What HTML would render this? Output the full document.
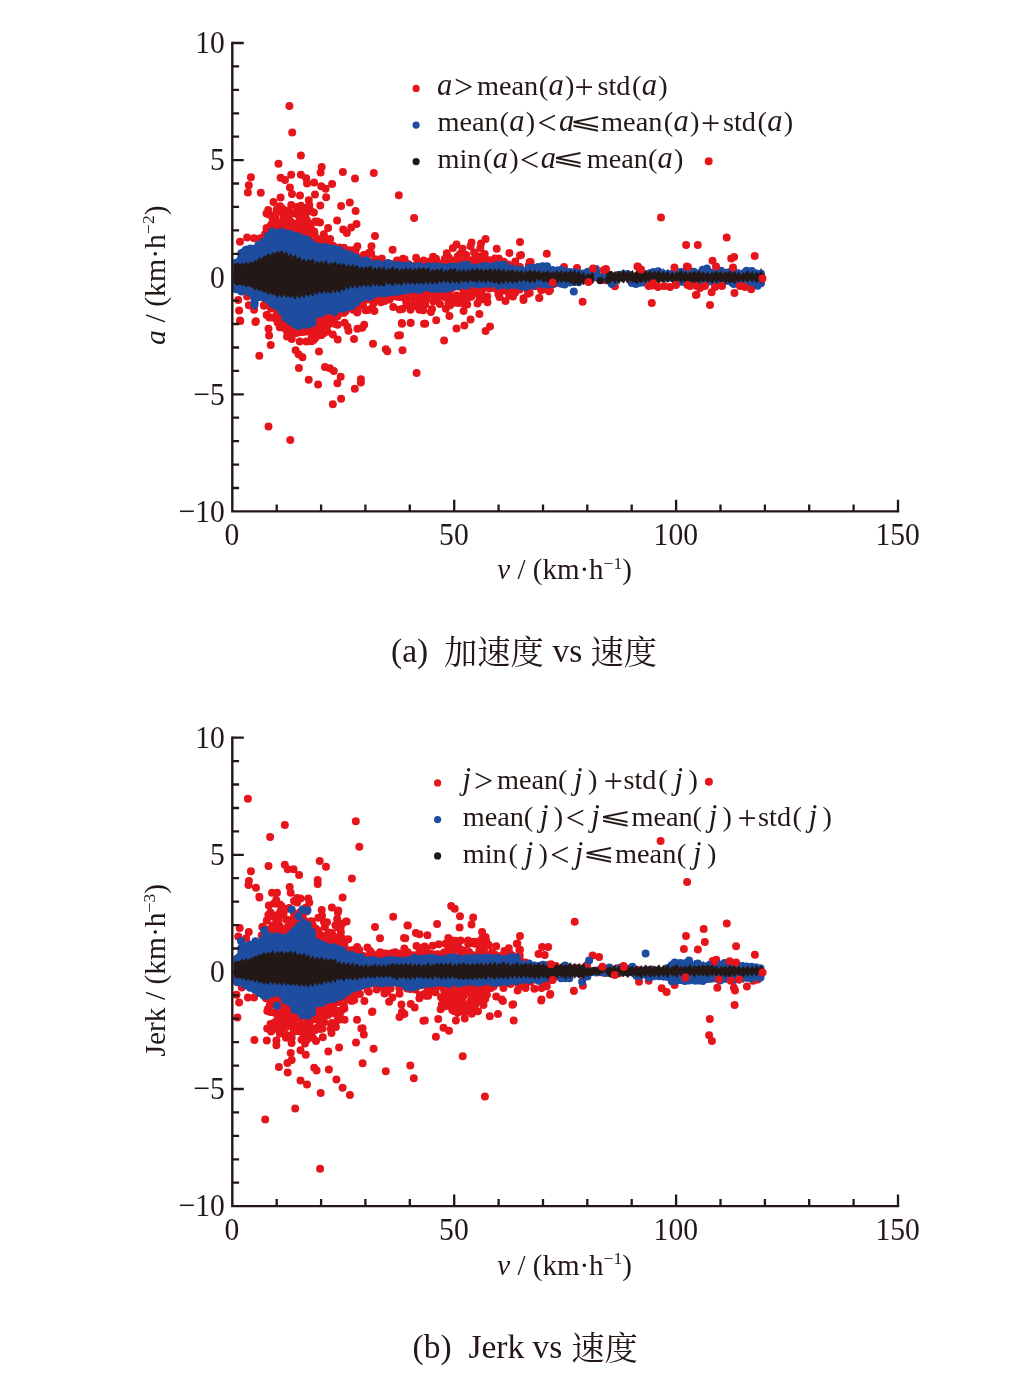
<!DOCTYPE html>
<html lang="zh-CN">
<head>
<meta charset="utf-8">
<title>加速度 / Jerk vs 速度</title>
<style>
html,body{margin:0;padding:0;background:#fff}
body{width:1020px;height:1381px;overflow:hidden}
svg{display:block}
text{font-family:"Liberation Serif","DejaVu Sans",serif;fill:#231815}
.tk{font-size:29.6px}
.lb{font-size:29px}
.lg{font-size:28.3px}
.lg .it{font-size:30.5px}
.op{font-size:34px}
.it{font-style:italic}
.sup{font-size:17.5px}
.le{font-family:"DejaVu Sans","Liberation Serif",sans-serif;font-size:30px}
.cap{font-size:33.5px}
.cjk{font-family:"Liberation Serif","Noto Serif CJK SC",serif;font-size:33.3px}
</style>
</head>
<body>
<svg width="1020" height="1381" viewBox="0 0 1020 1381">
<rect width="1020" height="1381" fill="#fff"/>
<g id="plot1">
<path d="M263.2 241.9h0M263.7 297h0M266.1 232.7h0M265.1 234.1h0M267.1 237.8h0M263.9 305.8h0M263.8 305.3h0M265.5 299.8h0M266.5 227.9h0M268.8 214.6h0M266.5 213.5h0M267 300.8h0M266.6 314.9h0M269.4 302.1h0M268.4 213.9h0M269.5 227h0M271.2 227.9h0M271 225.1h0M271.4 317.5h0M271 308.5h0M269.3 317.4h0M273.4 223.6h0M273.4 224.7h0M272.7 220h0M273 227.7h0M273.7 305.9h0M271 307.5h0M275.5 217.5h0M272.9 225.3h0M272.8 226.5h0M274.5 306h0M276 306.6h0M273.8 317.7h0M275.6 225.6h0M277.4 226.2h0M276.7 209.4h0M276.2 212.9h0M277.4 314.9h0M277 309.2h0M277.8 311.1h0M279.9 223.5h0M278.3 222.2h0M279.3 231.3h0M280.1 206.3h0M277.1 313h0M279.4 320.1h0M277.6 322.6h0M280.7 211.6h0M282.8 208.9h0M282.6 222.2h0M281.8 225.3h0M279.7 327.2h0M280.8 314.2h0M281.9 228.4h0M282.3 226.2h0M283.7 216h0M284.7 232.5h0M282.1 327.2h0M281.8 317.7h0M283.1 319h0M285.1 228.6h0M284.5 220.2h0M287.1 222.7h0M286.2 224.4h0M286.4 330.2h0M284.1 326.6h0M286.2 212.3h0M289.2 232h0M289.5 220.7h0M289.6 214.3h0M287.2 329.5h0M287 336.6h0M288.9 322.1h0M289.3 228.3h0M290.9 229.9h0M290.2 220.9h0M289.1 210.5h0M288.3 321.1h0M291.7 339h0M291.8 330.2h0M292.3 226.2h0M293.1 234.6h0M292.9 229.6h0M291.2 205.1h0M293.3 330.9h0M291.6 331.5h0M291 329.2h0M294.9 223.7h0M296 233.8h0M293.2 231.6h0M294.5 224.5h0M295.7 213.8h0M294.7 332.7h0M294.8 329.4h0M294 328h0M297.3 214.6h0M297 207.1h0M295.7 235.9h0M296.1 212.4h0M296.2 332.9h0M295 329.4h0M295.1 328.7h0M299.6 220.1h0M300.2 213.2h0M298.4 229.9h0M299.4 234.4h0M300.6 326h0M299.7 332.3h0M297.5 330.2h0M299.5 220.7h0M301 205.8h0M300.6 222.8h0M302.1 229.4h0M300.4 324h0M299.7 341.5h0M302.4 332.1h0M304.8 231.1h0M303.8 218.9h0M304.8 228.4h0M305 209.6h0M303 225.6h0M304.6 326.9h0M304.9 325.7h0M304.6 331.7h0M304.2 330.7h0M305.6 213.9h0M306.6 219.4h0M304.1 232h0M306.8 221.7h0M306.6 324.9h0M305.7 329.9h0M306.5 325h0M307.2 221.2h0M306.6 227.7h0M309.3 230.2h0M307.1 207.8h0M307.9 330.4h0M306.3 341.6h0M308.1 325.6h0M310.7 234.1h0M308.3 238.5h0M309.3 205.1h0M308.4 240.7h0M309.7 223.7h0M311.5 341.3h0M311.4 334h0M311.7 325.1h0M310.3 323.2h0M310.9 227.9h0M311.1 211h0M312 233.1h0M311.6 231.6h0M311.8 337.3h0M312.2 331.9h0M311.4 324.1h0M313.6 340h0M316.1 240.1h0M313.9 212.5h0M314.2 231.5h0M314.6 234.6h0M315.2 221.6h0M313.5 316.5h0M315.2 327.9h0M315.4 324h0M315.1 338.3h0M317.3 221.6h0M317.6 239.6h0M316.6 221.9h0M316.2 243.2h0M315.9 315.8h0M317.7 322.6h0M315.8 325.3h0M318.2 335.6h0M316.5 333.3h0M319.9 243.9h0M317.9 242.5h0M320 245.9h0M320 222.4h0M318.5 315.4h0M319.1 316.6h0M317.8 315.4h0M319.3 328h0M321.3 243.5h0M320.6 247.4h0M321.7 238.4h0M320.8 247.5h0M321.6 335h0M322 322h0M322.1 328.7h0M320.4 323h0M324 247.9h0M325 246.3h0M324.2 236.6h0M322.2 241.1h0M323 313.8h0M323.7 330.8h0M324.1 332.9h0M324.2 328.5h0M323.8 235.9h0M326.6 240.2h0M323.8 234.2h0M327.1 248.2h0M326.9 326.7h0M325.9 315.2h0M326.9 322h0M325.4 315.4h0M325.2 315.7h0M326 241.7h0M328.3 245.6h0M328.1 228.1h0M328.3 324.5h0M328.1 322.6h0M327.4 331.6h0M327.1 318.3h0M330.2 239.1h0M330 246.1h0M329.6 322.7h0M328.8 317.9h0M331.4 312.2h0M330.3 315.8h0M332.2 248.8h0M331.5 246.6h0M333.8 320.8h0M331.5 320.9h0M332.6 322.9h0M333.5 313.9h0M332.7 250.8h0M333 245.7h0M333.2 320.7h0M333.5 318.1h0M335.3 323.9h0M338.2 249.5h0M336 316.8h0M337.5 316.3h0M337.6 310.4h0M337.6 324.7h0M339.5 249.9h0M337.1 316.1h0M337.8 313.9h0M340.6 250.7h0M339.3 247.5h0M341.9 311.8h0M340.2 309.4h0M341.5 309.9h0M343.9 247.7h0M342.6 311.6h0M343.7 312.9h0M344.3 249h0M344.2 311.4h0M345.4 311.4h0M349.5 253.7h0M349.5 250.2h0M347 309h0M348.2 307.9h0M349 252.5h0M349.4 306.8h0M351 252.5h0M353.8 250.1h0M353.2 309.8h0M355.8 249.5h0M355.9 255.5h0M356 306.5h0M353.7 307.8h0M356.3 257.4h0M357.2 312.6h0M358.1 302.3h0M358.3 257.9h0M357.6 311.8h0M358.6 301.5h0M362.5 259h0M361.4 258.8h0M360.8 299.5h0M361.6 299.4h0M364 254.9h0M363 297.6h0M363 305.7h0M363.8 254.9h0M364.1 297.5h0M365.7 310.3h0M369 252.7h0M366.9 260.3h0M367.5 299.6h0M367.9 310.1h0M371.2 253.4h0M368.5 296.1h0M371.2 299.6h0M373.1 263.1h0M371.2 297.4h0M371.8 308.2h0M373.3 261.9h0M375.2 262h0M374.4 311.1h0M373.4 303.4h0M375.4 259.3h0M376 293.9h0M376.9 299.3h0M378.8 260.1h0M380.3 296.4h0M380.5 295.8h0M378.4 297.1h0M381.5 263.5h0M382 261.1h0M380.5 293.4h0M380.9 302.3h0M379.2 301h0M381.8 258.5h0M384.8 299.1h0M382.5 295h0M386.3 264.8h0M384.8 301h0M385.9 297.6h0M388.4 264.1h0M389.1 292.1h0M388.1 298.3h0M390.7 263.9h0M388.2 299.1h0M389.6 299.4h0M392.5 265.4h0M392.5 293.7h0M393.2 307.1h0M392.6 291.8h0M395.8 263.8h0M392.9 292.1h0M392.6 296.6h0M397.1 260.5h0M394.9 294.8h0M396.2 295.9h0M400.4 263.4h0M398.2 297.1h0M400.3 297h0M402.2 263.2h0M400.8 294.7h0M399.7 309.5h0M402.3 308.9h0M404.6 259.2h0M403 258.7h0M401.7 293.2h0M404.4 297.9h0M404.5 263h0M403.9 265.4h0M406.2 302.1h0M406.5 304.7h0M408.8 265.6h0M408.6 305.5h0M407.1 299h0M408.2 263.9h0M408.4 266.7h0M409.9 291.2h0M410.2 294.6h0M412 266.2h0M410.5 309.7h0M411.9 291.1h0M410.6 294.9h0M415.9 266.8h0M414.3 267h0M413 305.1h0M414.9 291.6h0M413.6 295.9h0M416.6 264.4h0M416.1 257.8h0M417.6 306.7h0M414.9 299.7h0M416.1 296.6h0M417.4 266.4h0M416.9 299.2h0M418.8 291.7h0M420.2 263.5h0M420.7 265.7h0M421.1 301.1h0M419.6 293.8h0M419.6 291.9h0M422.6 266.1h0M423.6 260.4h0M423.3 310.3h0M422.8 288.8h0M422.1 293.2h0M424.5 265.3h0M427 289.5h0M425.2 304.6h0M425 293.9h0M425.9 267.3h0M428.4 288.7h0M426.4 290.7h0M426 299.4h0M430.1 261.2h0M429.6 289.5h0M430.8 289h0M429.7 294h0M433.1 256.8h0M432 308.9h0M433.4 290.8h0M431.5 289.4h0M432.6 259.5h0M435.4 266.7h0M433.2 301.3h0M433.6 301.2h0M436.9 265.8h0M436 258.7h0M437.7 288.1h0M434.8 295.6h0M436.2 289.5h0M440.1 263.8h0M439.9 303.9h0M438.4 296.7h0M438 291.4h0M440.4 263.4h0M442.5 264.5h0M442.4 295.1h0M441.3 293.6h0M441.7 265.9h0M444.9 289.6h0M443.7 296.6h0M441.7 290.4h0M444.9 258.7h0M446.2 265.5h0M444.6 288h0M445.8 297.4h0M446.3 294.2h0M448.8 257.4h0M448.8 298.9h0M445.9 308.7h0M448.4 303.8h0M450.8 261.4h0M450.1 305.3h0M448.7 287.6h0M449.5 291h0M452.9 263.2h0M451.5 260.2h0M451.3 303.8h0M451.7 288.2h0M451.9 286h0M454.4 261.9h0M453.1 299.2h0M455.8 300.7h0M453 298.1h0M457.8 256.2h0M455.9 302.5h0M456.5 295.4h0M457.9 286.6h0M457.1 259.9h0M460.4 264.3h0M458.3 303h0M460.2 298.2h0M459 297h0M459.5 263.2h0M462 266h0M462.1 300.6h0M461.9 298h0M462.2 298.7h0M464.4 263.5h0M461.9 262h0M463.6 311.1h0M463.6 290.3h0M463.6 285.2h0M462.4 303.1h0M463.9 264.7h0M465.7 262.6h0M465 296h0M463.6 292.2h0M465.6 291.6h0M466 256.2h0M468.1 265.4h0M467.3 304.5h0M467.7 284.3h0M466.4 300h0M470.9 265.1h0M470.2 287.2h0M468.5 293.2h0M468.1 297.1h0M470.3 266.5h0M471.6 283.9h0M471.3 296.7h0M473.1 288.9h0M471.8 285.6h0M474.9 264.8h0M472.8 260h0M472.4 287.5h0M474.2 291.3h0M475.8 290.7h0M475.6 255.8h0M476.4 265.2h0M475.2 292.3h0M474.9 284.3h0M477.5 303.5h0M479.6 264.8h0M478.6 265.1h0M477.5 287.3h0M479.6 300.1h0M479.8 293h0M480.5 261.7h0M482.5 255.9h0M479.3 296h0M481 299.4h0M480.3 296.2h0M482.3 298.6h0M484.3 265.7h0M481.8 265.9h0M481.5 291.1h0M483 296.6h0M482.1 289.7h0M485.3 265.3h0M485.4 266h0M486.3 284h0M485.4 298.8h0M483.6 284.5h0M488.1 260.2h0M486.2 287.6h0M487.3 296.4h0M487.5 302.3h0M488.3 260.3h0M489.8 288.6h0M489.1 287.2h0M493.1 267.5h0M490.5 262.7h0M491.6 287.6h0M492.2 285.8h0M495.1 258.6h0M494.4 284.3h0M493.5 287.8h0M497.4 261.1h0M497.4 265.8h0M494.7 284.9h0M497.5 290.1h0M499.7 265.3h0M499.8 266.9h0M499.5 297.1h0M498.4 294.2h0M501.2 263.6h0M499.8 263.5h0M499.5 283.6h0M500.6 287.9h0M502.4 263h0M504.3 263.1h0M502.7 289.6h0M503.7 261.8h0M503.8 289.3h0M504.4 290.5h0M508 264.4h0M508.8 290h0M509.2 295.5h0M509.2 267.9h0M509.7 287.4h0M508 284h0M510.6 266.9h0M510.9 284.7h0M513.6 285.9h0M512.4 267.6h0M515.3 261.4h0M514.1 289.9h0M515.2 292.4h0M515.2 265.3h0M515.1 289.3h0M516.2 290.1h0M518.2 268.6h0M520.1 288.5h0M518.8 286.4h0M520 267h0M519.8 289.6h0M521.9 270.4h0M524.5 285.5h0M526.8 270.8h0M526.7 285h0M528.8 265.3h0M527.7 289.6h0M530.7 284.7h0M532.5 269.1h0M531.4 285h0M535.8 285.6h0M535 286.3h0M536.8 283.4h0M543.2 287.8h0M545 282.1h0M545.9 283.4h0M553.6 284h0M553.8 283.9h0M556.4 282.7h0M584.2 278.8h0M585.6 275.9h0M587.2 278.9h0M590.7 279.7h0M590.7 278.5h0M594.9 275.2h0M599.4 278h0M600.1 280h0M604.1 275h0M606.2 277.2h0M605.6 280.2h0M607.1 279.9h0M609.1 276h0M612.6 277.8h0M614.6 277.1h0M616.6 277.4h0M617.2 275.3h0M618.6 276.2h0M620.8 275.2h0M623 275.1h0M626.4 275.1h0M629.8 279.9h0M632.1 280h0M635.4 276.7h0M636.9 277.5h0M637.4 279.9h0M639.3 274.3h0M641.9 278.5h0M646.4 278h0M650.5 277.9h0M653.4 276.7h0M654 276h0M662.4 276.9h0M666.5 276.5h0M668.4 277.2h0M289.4 105.9h0M292.2 132.5h0M300.9 155.6h0M278.5 163.8h0M321.7 167.1h0M320.6 172.6h0M342.9 171.9h0M373.8 172.9h0M355 178.4h0M250.9 177.3h0M248.8 185.3h0M247.9 192.4h0M260.8 192.7h0M398.8 195.3h0M280.6 177.7h0M285 180h0M291.2 174.7h0M300.9 174.7h0M306.2 178.2h0M307 183.5h0M314.1 182.6h0M321.2 186.2h0M325.6 188.8h0M332.1 183.9h0M289.9 187.6h0M292 194.1h0M300 195.5h0M315 194.5h0M326.1 197.3h0M308.8 200.3h0M320.3 205.6h0M280.6 197.6h0M273.5 202h0M268.2 210h0M341.1 205.9h0M349.8 202.6h0M355.6 210.9h0M337.1 220.6h0M356.5 224.1h0M351.2 227.6h0M343.2 229.4h0M346.8 232.9h0M375 235.9h0M357.4 246.2h0M371.5 246.2h0M392.6 249.7h0M240 241.8h0M247.1 237.4h0M254.1 238.2h0M260.3 238.2h0M414.1 217.9h0M456.5 244.4h0M471.5 242.6h0M485.6 239.1h0M481 243.5h0M462.6 248.8h0M496.7 248.8h0M509.4 252.9h0M520 242.1h0M520 255.4h0M546.8 253.8h0M530.6 262h0M564 267h0M577 268h0M452.9 247.9h0M470.6 246.2h0M480.3 247.9h0M474.1 252.4h0M460 254.1h0M446.8 253.2h0M466.2 255h0M477.6 256.2h0M484.7 254.1h0M490 260.3h0M498.8 258.5h0M521 255h0M529.7 262h0M541.2 290.3h0M549.1 291.2h0M527.9 293.8h0M523.5 298.2h0M539.1 297.9h0M582.6 301.8h0M696.5 294.7h0M661 217.6h0M686.1 245.1h0M697.8 245.1h0M726.7 237.6h0M712.5 260.8h0M734.1 256.9h0M731.2 258.4h0M754.7 255.9h0M638 266.7h0M614.9 286.3h0M651.8 302.9h0M695.9 295.1h0M710 304.9h0M711.6 292.2h0M734.5 293.1h0M751.2 289.2h0M708.7 161.3h0M240.3 320.9h0M255.4 321.9h0M268.5 328.7h0M269.1 335.6h0M270.7 345h0M259.3 355.8h0M295.6 350.3h0M298.5 354.2h0M302.5 357.2h0M298.9 367.9h0M308.7 379.7h0M318.1 384.6h0M325 367h0M329.9 368.3h0M333.8 370.9h0M340.7 376.8h0M337.4 383.2h0M360.9 379.3h0M360.9 382.6h0M354.8 388.7h0M341.1 398.7h0M332.8 404.2h0M268.5 426.4h0M290.3 440.1h0M319 351.5h0M354 339.1h0M373 343.8h0M385.8 349.3h0M387.4 351.3h0M402.5 350.3h0M398.1 335.6h0M402 323.8h0M410.7 322.8h0M424 323.8h0M416.6 373h0M344.6 322.8h0M347.5 326.8h0M348.5 330.7h0M357.4 328.7h0M362.3 327.7h0M364.2 324.8h0M332.8 334.6h0M337.7 339.5h0M238.2 300h0M239.1 310.6h0M240 320.6h0M247.1 296.5h0M248.8 305.3h0M254.1 309.7h0M255.9 321.2h0M410.6 322.9h0M425.2 323.8h0M436.2 320.3h0M430.9 312h0M419.4 309.7h0M449.4 315.9h0M456.5 328.6h0M464.4 325.6h0M444.1 340.6h0M485.6 330.9h0M490 326.5h0M479.4 314.1h0M470.6 319.4h0M400 335.3h0M401.8 322.9h0M505.5 300.9h0M513 296.5h0M523.5 300h0M529.7 292.9h0M539.4 297.9h0M543 289.4h0M550 290.3h0" fill="none" stroke="#E6151C" stroke-width="8.0" stroke-linecap="round"/>
<path d="M236.1 262.8V289.3M241.3 253.2V291.6M245.9 249.7V289.5M250.4 248.6V293M254.6 248.4V304.9M258.5 244.8V297.2M263.9 241.4V297.4M267.9 236V299.5M272.2 231.4V303.7M276.4 234.2V306.3M281.4 231.7V311.3M285.4 233.9V317.7M290.1 233.8V321.6M295 235.9V324.5M298.4 236.5V325.9M303.4 238.7V324.7M307.5 239.9V324.7M312.4 244.5V322.9M317 246.4V313.7M320.9 247.6V313.4M325.4 247.1V310.9M330.4 248.4V310.1M334.3 248.8V312M339.2 249.7V308.3M342.7 252.7V308.8M347.4 253.8V307.1M351.5 256.5V306.2M356.3 257.8V302.6M361.3 262.1V298.3M365.4 260.2V296.2M369.4 263V297.1M374.1 264.5V294M378.3 263.4V292.6M383.4 265.3V293.6M388.1 263V292.4M392.7 266.4V292.1M396.9 264.9V291.5M401.5 265.8V290.8M405.4 265.8V290M410 265.4V290M414.8 267.1V288.8M419 266V290M422.7 268V288M427.3 266.5V287.1M431.6 266.7V288.7M436.3 266.2V288.9M441.2 267.1V288.7M445.2 267.7V288.8M449.4 267.1V288M454 266.6V286.5M459 266.4V286.1M463.6 265V284.4M467 264.8V285.6M472 267.4V282.8M476.7 268.2V284.4M480.8 266.8V284.3M485.2 265.9V283.4M490 266.8V283.4M494.6 265.8V283.5M498.4 265.1V285.7M503.6 264.7V284.5M507.4 268.1V285.5M511.5 268.7V284.4M516.1 270.5V285.1M521 269.8V286.3M525.3 271.6V286.9M529.4 267.9V285.4M533.5 267.7V285.4M538.1 267V283M542.5 266.3V284.2M547 266.2V284.4M552.3 269.9V284M556.1 271.1V281.9M561.2 269.8V283.8M564.7 271.5V284.4M569.9 272.1V282.3M573.8 272.2V281.9M578.6 273.2V282.3M583.2 273.6V277.3M587.8 271.7V277.3M592.3 272.1V277.3M596.3 272.4V277.3M600.3 277.3V277.3M604.6 277.3V277.3M609 277.3V280.8M614.5 277.3V281.3M618.6 275V277.3M623.1 274.2V277.3M627.6 274V277.3M631.8 277.3V282.9M635.9 277.3V284.1M640.5 277.3V282.8M645.3 277.3V282.8M649.8 273.2V277.5M653.6 271.9V277.3M658.3 271.3V277.3M662.9 273.9V278.2M667.4 273.9V278M672.2 273.8V277.6M676.3 272.8V282.7M680.4 272.1V281.8M685.2 271.6V282.5M689.3 271V282.5M693.8 271.7V282.9M698.8 273.2V284.2M702.7 269.7V282.2M706.9 268.4V282.3M711.7 272.8V281.6M715.7 273.2V281.9M721 270.8V281.3M725.5 272.9V281.1M729.8 272.1V281M733.7 270.8V283.9M738.3 273.7V283.7M742.8 273.9V284M746.7 270.8V283.3M751.9 270.9V282M756.3 273.4V282.3M761 273.7V283.3" fill="none" stroke="#1E4DA0" stroke-width="8.0" stroke-linecap="round"/>
<path d="M234.4 260.9L237.6 257.6L238.6 260.4L238.9 251.2L242.1 248.6L243.1 250.8L243.3 248.7L246.5 245.9L247.5 248.3L247.8 249.7L251 245.6L252 249.1L252.2 248.8L255.4 244.9L256.4 248.2L256.6 247.1L259.8 243.8L260.8 246.6L261.1 242.2L264.3 239.6L265.3 241.8L265.5 238.1L268.7 234.2L269.7 237.5L269.9 233.5L273.1 230.7L274.1 233.1L274.4 232.7L277.6 229.3L278.6 232.2L278.8 233.4L282 229.8L283 232.9L283.3 233.2L286.5 229.2L287.5 232.6L287.7 236.7L290.9 232.6L291.9 236.1L292.1 236.5L295.3 233.7L296.3 236.1L296.6 236.9L299.8 234.1L300.8 236.4L301 238.6L304.2 235.7L305.2 238.1L305.4 240.6L308.6 236.9L309.6 240L309.9 243.5L313.1 239.4L314.1 242.9L314.3 246.5L317.5 243.3L318.5 246L318.8 248.2L322 244.3L323 247.6L323.2 248.5L326.4 245.2L327.4 248L327.6 248.4L330.8 244.9L331.8 247.9L332.1 252L335.3 248.2L336.3 251.4L336.5 252.4L339.7 248.5L340.7 251.8L340.9 253.6L344.1 249.6L345.1 253L345.4 255.4L348.6 251.2L349.6 254.8L349.8 254.7L353 251.5L354 254.2L354.3 259.5L357.5 255.6L358.5 258.9L358.7 260.3L361.9 257.1L362.9 259.8L363.1 261.5L366.3 258.6L367.3 261.1L367.6 261.4L370.8 257.9L371.8 260.9L372 264.9L375.2 260.9L376.2 264.3L376.5 264.6L379.7 261.2L380.7 264L380.9 265L384.1 261.3L385.1 264.4L385.3 264.7L388.5 261.3L389.5 264.2L389.8 263.8L393 260.6L394 263.3L394.2 266.4L397.4 263.2L398.4 265.9L398.6 266.7L401.8 262.5L402.8 266L403.1 265.8L406.3 262.3L407.3 265.2L407.5 267.4L410.7 263.8L411.7 266.8L412 267.2L415.2 263.1L416.2 266.6L416.4 266.9L419.6 262.8L420.6 266.3L420.8 266.9L424 264.1L425 266.5L425.3 266.8L428.5 264L429.5 266.4L429.7 267.9L432.9 264.6L433.9 267.4L434.1 268.1L437.3 264.6L438.3 267.6L438.6 266.6L441.8 263L442.8 266L443 267.6L446.2 264.6L447.2 267.1L447.5 266.5L450.7 263.6L451.7 266.1L451.9 267.3L455.1 263.7L456.1 266.7L456.3 267.3L459.5 263.8L460.5 266.7L460.8 265.9L464 262.8L465 265.5L465.2 267.9L468.4 263.8L469.4 267.3L469.7 266.1L472.9 263.3L473.9 265.7L474.1 268.3L477.3 264.4L478.3 267.7L478.5 267.4L481.7 263.9L482.7 266.9L483 266L486.2 263.1L487.2 265.6L487.4 267.1L490.6 263.6L491.6 266.6L491.8 266.9L495 263.2L496 266.3L496.3 267.7L499.5 264.5L500.5 267.2L500.7 265.8L503.9 262.4L504.9 265.3L505.2 266.7L508.4 262.7L509.4 266.1L509.6 268.1L512.8 265.3L513.8 267.6L514 268.8L517.2 264.9L518.2 268.2L518.5 269.1L521.7 266.3L522.7 268.7L522.9 270.1L526.1 266.6L527.1 269.5L527.3 269.1L530.5 265.8L531.5 268.6L531.8 269L535 266.1L536 268.5L536.2 267.1L539.4 264.5L540.4 266.7L540.7 266.9L543.9 263.2L544.9 266.3L545.1 267.4L548.3 263.7L549.3 266.8L549.5 270.2L552.7 266.9L553.7 269.7L554 268.9L557.2 266.3L558.2 268.5L558.4 270.8L561.6 267L562.6 270.2L562.9 272.2L566.1 268.1L567.1 271.6L567.3 272.7L570.5 269.6L571.5 272.2L571.7 273.4L574.9 269.9L575.9 272.9L576.2 271.7L579.4 268.7L580.4 271.3L580.6 274.1L583.8 270L584.8 273.5L585 274.2L588.2 270.2L589.2 273.6L589.5 273.6L592.7 270.2L593.7 273.1L593.9 271.9L597.1 268.8L598.1 271.4L598.4 276.4L601.6 276.2L602.6 276.4L602.8 277.2L606 276.5L607 277.1L607.2 278.9L610.4 275.3L611.4 278.4L611.7 279.6L614.9 275.4L615.9 279L616.1 275.1L619.3 272.3L620.3 274.7L620.5 272.9L623.7 269.4L624.7 272.3L625 274.8L628.2 270.9L629.2 274.3L629.4 280.2L632.6 276.4L633.6 279.6L633.9 280.4L637.1 277.3L638.1 279.9L638.3 279.5L641.5 276.6L642.5 279L642.7 278.9L645.9 276.1L646.9 278.4L647.2 274.5L650.4 270.3L651.4 273.9L651.6 274.6L654.8 270.7L655.8 274L656 272.9L659.2 269.4L660.2 272.4L660.5 271.8L663.7 268.7L664.7 271.4L664.9 273.3L668.1 269.3L669.1 272.7L669.4 273.7L672.6 269.8L673.6 273.2L673.8 273.5L677 269.2L678 272.9L678.2 271.6L681.4 268.5L682.4 271.1L682.7 272.2L685.9 269.2L686.9 271.7L687.1 271.6L690.3 268.1L691.3 271.1L691.6 272.2L694.8 268.6L695.8 271.6L696 273.1L699.2 269.9L700.2 272.6L700.4 269.3L703.6 266.3L704.6 268.9L704.9 268.3L708.1 265.2L709.1 267.9L709.3 273.6L712.5 269.9L713.5 273L713.7 271.8L716.9 269.1L717.9 271.4L718.2 273.1L721.4 269.1L722.4 272.5L722.6 272.2L725.8 268.7L726.8 271.6L727.1 272L730.3 269.4L731.3 271.6L731.5 272.9L734.7 269.8L735.7 272.5L735.9 272.5L739.1 269L740.1 271.9L740.4 271.6L743.6 268.4L744.6 271.1L744.8 272L748 269.3L749 271.6L749.2 273.2L752.4 270L753.4 272.7L753.7 273.2L756.9 269.8L757.9 272.7L758.1 272.6L761.3 268.5L762.3 272L762.3 283.3L761.3 286.3L758.1 282.8L757.9 283.8L756.9 286.3L753.7 283.4L753.4 282.6L752.4 286.1L749.2 281.9L749 281.6L748 284.7L744.8 281.1L744.6 283.6L743.6 286.1L740.4 283.2L740.1 283.9L739.1 286.7L735.9 283.3L735.7 283L734.7 286L731.5 282.4L731.3 283.7L730.3 286.1L727.1 283.3L726.8 282.4L725.8 284.7L722.6 282L722.4 282.9L721.4 285.1L718.2 282.5L717.9 283.4L716.9 286L713.7 283L713.5 282.3L712.5 285.4L709.3 281.8L709.1 282L708.1 285.4L704.9 281.4L704.6 282.5L703.6 286.1L700.4 281.9L700.2 281.6L699.2 285.1L696 280.9L695.8 282.8L694.8 285.9L691.6 282.2L691.3 283.7L690.3 285.9L687.1 283.3L686.9 282.1L685.9 285.1L682.7 281.5L682.4 282.3L681.4 284.8L678.2 281.8L678 282.9L677 285.6L673.8 282.4L673.6 278.9L672.6 282.2L669.4 278.3L669.1 275.7L668.1 278.7L664.9 275.1L664.7 277.8L663.7 280.8L660.5 277.3L660.2 276.4L659.2 279.7L656 275.9L655.8 277.6L654.8 279.8L651.6 277.2L651.4 277.2L650.4 280.3L647.2 276.7L646.9 282.2L645.9 285.4L642.7 281.7L642.5 283.1L641.5 285.4L638.3 282.8L638.1 283.2L637.1 286.4L633.9 282.6L633.6 284.3L632.6 286.5L629.4 283.8L629.2 276.2L628.2 279.8L625 275.5L624.7 275.6L623.7 279.2L620.5 274.9L620.3 276.7L619.3 279.1L616.1 276.3L615.9 280.6L614.9 283.9L611.7 280L611.4 282.2L610.4 284.4L607.2 281.8L607 278.5L606 279.1L602.8 278.4L602.6 277.6L601.6 277.8L598.4 277.6L598.1 275.7L597.1 278.7L593.9 275.2L593.7 275.9L592.7 278.4L589.5 275.5L589.2 275.4L588.2 278.4L585 274.9L584.8 276.4L583.8 279.7L580.6 275.8L580.4 282.3L579.4 284.6L576.2 281.9L575.9 283.3L574.9 286L571.7 282.8L571.5 283.3L570.5 286.5L567.3 282.7L567.1 283.2L566.1 286.7L562.9 282.6L562.6 283.2L561.6 286.8L558.4 282.6L558.2 283.3L557.2 286.5L554 282.7L553.7 284.6L552.7 287.1L549.5 284.1L549.3 283.5L548.3 286L545.1 283L544.9 283.2L543.9 285.6L540.7 282.8L540.4 284.4L539.4 286.6L536.2 284L536 284L535 287.2L531.8 283.5L531.5 285.2L530.5 287.5L527.3 284.8L527.1 285L526.1 288.6L522.9 284.4L522.7 284.8L521.7 288.2L518.5 284.2L518.2 284.4L517.2 287.8L514 283.8L513.8 285.5L512.8 288.1L509.6 285.1L509.4 285.6L508.4 288.6L505.2 285.1L504.9 284.6L503.9 287.9L500.7 284L500.5 283.2L499.5 286.1L496.3 282.7L496 284.5L495 287L491.8 284L491.6 284.9L490.6 288.4L487.4 284.3L487.2 285.6L486.2 288L483 285.1L482.7 283.7L481.7 286.6L478.5 283.2L478.3 284.8L477.3 287.8L474.1 284.2L473.9 284.1L472.9 287.5L469.7 283.5L469.4 285.6L468.4 288.2L465.2 285.2L465 285.5L464 288.1L460.8 285L460.5 286.8L459.5 289.1L456.3 286.3L456.1 287.1L455.1 290.2L451.9 286.6L451.7 285.3L450.7 288.9L447.5 284.6L447.2 287.2L446.2 290.3L443 286.7L442.8 288.5L441.8 291.5L438.6 288L438.3 289.1L437.3 292L434.1 288.6L433.9 287.3L432.9 290.6L429.7 286.8L429.5 288L428.5 290.5L425.3 287.5L425 289.2L424 292.1L420.8 288.7L420.6 289.9L419.6 292.8L416.4 289.4L416.2 289.3L415.2 292.4L412 288.7L411.7 290.1L410.7 293L407.5 289.6L407.3 291.1L406.3 294.1L403.1 290.6L402.8 290.4L401.8 293.3L398.6 289.9L398.4 292.6L397.4 295.9L394.2 292.1L394 291.7L393 295L389.8 291.1L389.5 293.4L388.5 296.3L385.3 292.9L385.1 293L384.1 296.2L380.9 292.4L380.7 294.7L379.7 297L376.5 294.3L376.2 296.5L375.2 298.7L372 296.1L371.8 295.1L370.8 298.2L367.6 294.6L367.3 295.4L366.3 298.9L363.1 294.7L362.9 297.1L361.9 300.2L358.7 296.6L358.5 300.8L357.5 303L354.3 300.4L354 305.7L353 309L349.8 305.1L349.6 308.7L348.6 311.1L345.4 308.3L345.1 308.5L344.1 312L340.9 307.8L340.7 309.3L339.7 312.3L336.5 308.8L336.3 310.6L335.3 313.5L332.1 310.1L331.8 311.1L330.8 313.8L327.6 310.7L327.4 311.6L326.4 314.7L323.2 311.1L323 313.8L322 316.3L318.8 313.4L318.5 314L317.5 317.3L314.3 313.4L314.1 322.1L313.1 325.3L309.9 321.5L309.6 325.3L308.6 327.6L305.4 324.9L305.2 325.5L304.2 328.2L301 325.1L300.8 324.3L299.8 327.8L296.6 323.6L296.3 324.6L295.3 326.8L292.1 324.2L291.9 321.8L290.9 324.9L287.7 321.3L287.5 317.1L286.5 320.3L283.3 316.5L283 311.3L282 314.8L278.8 310.7L278.6 307.1L277.6 309.9L274.4 306.6L274.1 304.7L273.1 306.9L269.9 304.3L269.7 301.7L268.7 305L265.5 301.1L265.3 298.2L264.3 300.6L261.1 297.8L260.8 298.6L259.8 300.8L256.6 298.2L256.4 304.5L255.4 307.5L252.2 304L252 294.4L251 297L247.8 293.9L247.5 291.8L246.5 295.1L243.3 291.2L243.1 290.1L242.1 293.4L238.9 289.5L238.6 289.3L237.6 292L234.4 288.8Z" fill="#1E4DA0" stroke="#1E4DA0" stroke-width="0.8" stroke-linejoin="round"/>
<path d="M573.8 291.5h0M757.6 285.7h0M592.4 270h0M595.9 269.1h0M611.8 284.1h0" fill="none" stroke="#1E4DA0" stroke-width="8.0" stroke-linecap="round"/>
<path d="M234.4 265.5L237.6 263.1L238.6 265.2L238.9 266.1L242.1 262.9L243.1 265.6L243.3 265.2L246.5 261.9L247.5 264.7L247.8 264.8L251 261.4L252 264.3L252.2 263.7L255.4 260.2L256.4 263.2L256.6 261.3L259.8 257.5L260.8 260.7L261.1 259.6L264.3 256.2L265.3 259L265.5 256.1L268.7 253.7L269.7 255.7L269.9 256L273.1 252.5L274.1 255.5L274.4 254.4L277.6 251.1L278.6 253.9L278.8 253.3L282 250.6L283 252.9L283.3 254.5L286.5 252.1L287.5 254.1L287.7 257.2L290.9 253.7L291.9 256.7L292.1 258.1L295.3 254.7L296.3 257.6L296.6 259.9L299.8 257.1L300.8 259.5L301 261.7L304.2 258.7L305.2 261.2L305.4 262.3L308.6 259.6L309.6 261.9L309.9 261.6L313.1 259L314.1 261.3L314.3 264.6L317.5 260.9L318.5 264.1L318.8 263.5L322 261L323 263.1L323.2 264.2L326.4 260.6L327.4 263.7L327.6 266.3L330.8 262.6L331.8 265.7L332.1 264.1L335.3 261.7L336.3 263.7L336.5 265.7L339.7 263.1L340.7 265.3L340.9 266.1L344.1 263.5L345.1 265.7L345.4 267.4L348.6 264.4L349.6 267L349.8 267.7L353 264.4L354 267.2L354.3 267.6L357.5 265.3L358.5 267.2L358.7 269.7L361.9 266.8L362.9 269.3L363.1 269.3L366.3 266.4L367.3 268.8L367.6 268.5L370.8 265.9L371.8 268.1L372 270.8L375.2 267.3L376.2 270.3L376.5 269.8L379.7 266.8L380.7 269.3L380.9 270.2L384.1 266.8L385.1 269.7L385.3 271.7L388.5 268L389.5 271.1L389.8 269.7L393 267L394 269.3L394.2 270.7L397.4 267.9L398.4 270.3L398.6 272.2L401.8 268.6L402.8 271.7L403.1 270.7L406.3 267.8L407.3 270.3L407.5 270.7L410.7 267.8L411.7 270.3L412 271.2L415.2 268.1L416.2 270.7L416.4 270.5L419.6 267.5L420.6 270.1L420.8 269.9L424 267.5L425 269.5L425.3 270.6L428.5 267.6L429.5 270.2L429.7 272.8L432.9 269.3L433.9 272.3L434.1 271.1L437.3 268.6L438.3 270.7L438.6 271.5L441.8 268L442.8 270.9L443 273.3L446.2 269.6L447.2 272.7L447.5 271.9L450.7 268.3L451.7 271.4L451.9 270.6L455.1 268.4L456.1 270.3L456.3 272.7L459.5 269.5L460.5 272.2L460.8 272.8L464 269L465 272.2L465.2 272.7L468.4 269.3L469.4 272.2L469.7 271.9L472.9 268.5L473.9 271.4L474.1 271.3L477.3 268.1L478.3 270.8L478.5 271.2L481.7 268.8L482.7 270.9L483 271.8L486.2 269.2L487.2 271.4L487.4 270.8L490.6 268.5L491.6 270.4L491.8 271.9L495 268.7L496 271.4L496.3 271.4L499.5 268.7L500.5 271L500.7 272.4L503.9 268.7L504.9 271.8L505.2 272.9L508.4 269.6L509.4 272.4L509.6 271.7L512.8 269.4L513.8 271.4L514 273.7L517.2 270L518.2 273.1L518.5 273.1L521.7 270.1L522.7 272.7L522.9 274.2L526.1 270.5L527.1 273.6L527.3 272.4L530.5 270L531.5 272L531.8 272.6L535 270.4L536 272.3L536.2 273.1L539.4 270.7L540.4 272.8L540.7 274.3L543.9 271.4L544.9 273.8L545.1 273L548.3 270.7L549.3 272.6L549.5 274.7L552.7 271.4L553.7 274.2L554 273.3L557.2 270.7L558.2 272.9L558.4 273.7L561.6 270.5L562.6 273.2L562.9 273.6L566.1 271L567.1 273.2L567.3 273.8L570.5 270.3L571.5 273.3L571.7 273.2L574.9 270.1L575.9 272.7L576.2 273.7L579.4 271.1L580.4 273.3L580.6 276L583.8 272.4L584.8 275.5L585 276.9L588.2 273.2L589.2 276.4L589.5 275.1L592.7 272.6L593.7 274.7L593.7 280.6L592.7 283.6L589.5 280.1L589.2 282.5L588.2 284.8L585 282.1L584.8 282.1L583.8 284.9L580.6 281.6L580.4 283.4L579.4 285.6L576.2 283L575.9 283.1L574.9 285.2L571.7 282.7L571.5 281.2L570.5 283.3L567.3 280.9L567.1 280.5L566.1 282.8L562.9 280.1L562.6 280.2L561.6 282.7L558.4 279.7L558.2 281L557.2 283.2L554 280.6L553.7 280.4L552.7 283L549.5 279.9L549.3 280.7L548.3 282.7L545.1 280.3L544.9 279.5L543.9 282.6L540.7 279L540.4 278.2L539.4 281.1L536.2 277.7L536 280.2L535 283.1L531.8 279.7L531.5 280.7L530.5 282.7L527.3 280.4L527.1 279.3L526.1 282L522.9 278.9L522.7 279.8L521.7 282.2L518.5 279.4L518.2 280.8L517.2 282.9L514 280.4L513.8 281.1L512.8 283.2L509.6 280.7L509.4 280.4L508.4 283.4L505.2 279.8L504.9 281.2L503.9 284L500.7 280.7L500.5 282.5L499.5 284.6L496.3 282.1L496 281.5L495 283.6L491.8 281.1L491.6 279.9L490.6 282.8L487.4 279.3L487.2 280.7L486.2 283.2L483 280.3L482.7 279.6L481.7 282.5L478.5 279.1L478.3 280.6L477.3 282.9L474.1 280.2L473.9 279.8L472.9 281.9L469.7 279.4L469.4 280.8L468.4 282.7L465.2 280.4L465 280.1L464 282.4L460.8 279.7L460.5 281.2L459.5 283.8L456.3 280.7L456.1 280.6L455.1 283.4L451.9 280.1L451.7 281.1L450.7 283.7L447.5 280.6L447.2 280.3L446.2 283L443 279.8L442.8 280.7L441.8 283.2L438.6 280.3L438.3 281.8L437.3 283.8L434.1 281.4L433.9 281.3L432.9 284.2L429.7 280.8L429.5 281.3L428.5 284.2L425.3 280.8L425 282L424 284.4L420.8 281.6L420.6 282.3L419.6 284.2L416.4 281.9L416.2 281.8L415.2 284.7L412 281.2L411.7 282.3L410.7 284.5L407.5 281.9L407.3 281.8L406.3 284.6L403.1 281.3L402.8 283L401.8 285.6L398.6 282.6L398.4 282.3L397.4 285L394.2 281.8L394 283.6L393 285.7L389.8 283.3L389.5 281.8L388.5 285L385.3 281.3L385.1 284.4L384.1 286.6L380.9 284L380.7 284.3L379.7 286.5L376.5 284L376.2 283.3L375.2 286.1L372 282.8L371.8 284.8L370.8 287.1L367.6 284.4L367.3 284.1L366.3 287L363.1 283.6L362.9 284.6L361.9 287L358.7 284.2L358.5 285.5L357.5 288L354.3 285.1L354 285.5L353 288.4L349.8 285L349.6 286.5L348.6 289.2L345.4 286L345.1 288.7L344.1 290.7L340.9 288.4L340.7 289.9L339.7 292.5L336.5 289.5L336.3 290L335.3 292.9L332.1 289.4L331.8 291.3L330.8 293.7L327.6 290.9L327.4 290.7L326.4 293.3L323.2 290.3L323 290.9L322 293.7L318.8 290.5L318.5 292.1L317.5 294.8L314.3 291.7L314.1 293.8L313.1 295.9L309.9 293.4L309.6 293.4L308.6 296.6L305.4 292.9L305.2 294.6L304.2 297.8L301 294.1L300.8 295.3L299.8 298.2L296.6 294.8L296.3 295.9L295.3 299L292.1 295.4L291.9 295.5L290.9 297.9L287.7 295.1L287.5 294.5L286.5 297.6L283.3 293.9L283 294.9L282 297.4L278.8 294.4L278.6 294.5L277.6 297.2L274.4 294L274.1 292.5L273.1 295.1L269.9 292.1L269.7 291.7L268.7 294.5L265.5 291.2L265.3 290.4L264.3 292.7L261.1 289.9L260.8 288.7L259.8 290.9L256.6 288.3L256.4 287.4L255.4 290.2L252.2 286.9L252 285.3L251 287.4L247.8 285L247.5 284.7L246.5 287L243.3 284.3L243.1 283.3L242.1 285.8L238.9 282.9L238.6 283.3L237.6 285.5L234.4 282.9ZM611.7 275.1L614.9 271.6L615.9 274.6L616.1 274.1L619.3 270.9L620.3 273.6L620.5 273.1L623.7 270.2L624.7 272.7L625 273.8L628.2 271L629.2 273.4L629.4 273.4L632.6 270.4L633.6 273L633.9 273.6L637.1 270.7L638.1 273.2L638.3 274L641.5 271.6L642.5 273.6L642.7 272.7L645.9 270.2L646.9 272.3L647.2 273.5L650.4 270.3L651.4 273L651.6 274.2L654.8 270.8L655.8 273.7L656 273.9L659.2 270.2L660.2 273.3L660.5 274.1L663.7 271.3L664.7 273.7L664.9 273.8L668.1 271.5L669.1 273.5L669.4 275.5L672.6 271.9L673.6 275L673.8 274.8L677 271.8L678 274.4L678.2 273L681.4 270.5L682.4 272.6L682.7 274L685.9 271.4L686.9 273.6L687.1 274.4L690.3 272L691.3 274L691.6 273.9L694.8 270.9L695.8 273.5L696 273.7L699.2 270.7L700.2 273.2L700.4 274.1L703.6 271.8L704.6 273.8L704.9 275L708.1 271.9L709.1 274.5L709.3 274.9L712.5 271.7L713.5 274.4L713.7 274L716.9 270.7L717.9 273.5L718.2 274.1L721.4 271.3L722.4 273.7L722.6 274.5L725.8 271.8L726.8 274.1L727.1 273.6L730.3 270.9L731.3 273.2L731.5 274L734.7 271.1L735.7 273.6L735.9 274.8L739.1 272L740.1 274.4L740.4 275.9L743.6 272.3L744.6 275.4L744.8 273.6L748 270.7L749 273.2L749.2 275.2L752.4 271.5L753.4 274.7L753.7 275.6L756.9 271.8L757.9 275L758.1 274.6L761.3 271.2L762.3 274.1L762.3 281L761.3 282.9L758.1 280.6L757.9 280.1L756.9 282.6L753.7 279.6L753.4 279.2L752.4 282.2L749.2 278.6L749 279.7L748 282.2L744.8 279.3L744.6 280.1L743.6 282.1L740.4 279.7L740.1 279.9L739.1 282.7L735.9 279.5L735.7 281.4L734.7 283.6L731.5 281L731.3 280.9L730.3 283.5L727.1 280.4L726.8 280.4L725.8 283.5L722.6 279.8L722.4 280.5L721.4 282.6L718.2 280.1L717.9 280.2L716.9 283.2L713.7 279.7L713.5 280.6L712.5 283.4L709.3 280.1L709.1 280.1L708.1 282.6L704.9 279.7L704.6 279.8L703.6 282.2L700.4 279.4L700.2 281.2L699.2 283.5L696 280.8L695.8 280.9L694.8 283.5L691.6 280.5L691.3 281.7L690.3 283.8L687.1 281.4L686.9 280.6L685.9 283.1L682.7 280.1L682.4 280.1L681.4 282.6L678.2 279.6L678 280.6L677 283.5L673.8 280.1L673.6 280.4L672.6 282.5L669.4 280.1L669.1 279.7L668.1 282.6L664.9 279.2L664.7 279.8L663.7 282.4L660.5 279.4L660.2 281.4L659.2 283.7L656 281L655.8 281.2L654.8 283.9L651.6 280.8L651.4 279.9L650.4 282.9L647.2 279.4L646.9 280.5L645.9 282.5L642.7 280.1L642.5 280.9L641.5 282.9L638.3 280.6L638.1 281.6L637.1 283.8L633.9 281.2L633.6 280L632.6 283L629.4 279.5L629.2 280.1L628.2 282.7L625 279.6L624.7 281L623.7 283L620.5 280.6L620.3 281.1L619.3 283.7L616.1 280.6L615.9 280.3L614.9 283.3L611.7 279.7Z" fill="#231815" stroke="#231815" stroke-width="0.8" stroke-linejoin="round"/>
<path d="M600.3 280.6h0M610 274.4h0M608.2 279.7h0M761.5 277h0" fill="none" stroke="#231815" stroke-width="7.4" stroke-linecap="round"/>
<path d="M237.6 266.6V281.2" fill="none" stroke="#231815" stroke-width="7.4" stroke-linecap="round"/>
<path d="M762.5 278.4h0M552.6 282.4h0M588.5 282h0M603.8 270h0M637.4 266.5h0M674.4 267.4h0M686.8 266.5h0M648.8 285.9h0M653.2 283.2h0M687.6 285h0M696.5 285.9h0M652 285.5h0M658 287h0M664 286h0M670 287h0M676 285h0M690 286h0M700 288h0M705 286h0M715 287h0M722 286h0M740 286h0M745 287h0M641 269.5h0M593 268.5h0M606 269h0M688 267h0M716 266.5h0M733 267.5h0" fill="none" stroke="#E6151C" stroke-width="8.0" stroke-linecap="round"/>
<path d="M232.3 41.8 V511.4 H899.2" fill="none" stroke="#231815" stroke-width="2.4" stroke-linejoin="miter"/>
<path d="M232.3 43h11.5M232.3 66.4h6.8M232.3 89.8h6.8M232.3 113.3h6.8M232.3 136.7h6.8M232.3 160.1h11.5M232.3 183.5h6.8M232.3 206.9h6.8M232.3 230.4h6.8M232.3 253.8h6.8M232.3 277.2h11.5M232.3 300.6h6.8M232.3 324h6.8M232.3 347.5h6.8M232.3 370.9h6.8M232.3 394.3h11.5M232.3 417.7h6.8M232.3 441.1h6.8M232.3 464.6h6.8M232.3 488h6.8M276.7 511.4v-7M321.1 511.4v-7M365.4 511.4v-7M409.8 511.4v-7M454.2 511.4v-11.6M498.6 511.4v-7M543 511.4v-7M587.3 511.4v-7M631.7 511.4v-7M676.1 511.4v-11.6M720.5 511.4v-7M764.9 511.4v-7M809.2 511.4v-7M853.6 511.4v-7M898 511.4v-11.6" fill="none" stroke="#231815" stroke-width="2.3"/>
<text class="tk" transform="translate(224.9 53.3) scale(1 1.07)" text-anchor="end">10</text>
<text class="tk" transform="translate(224.9 170.4) scale(1 1.07)" text-anchor="end">5</text>
<text class="tk" transform="translate(224.9 287.5) scale(1 1.07)" text-anchor="end">0</text>
<text class="tk" transform="translate(224.9 404.6) scale(1 1.07)" text-anchor="end">−5</text>
<text class="tk" transform="translate(224.9 521.7) scale(1 1.07)" text-anchor="end">−10</text>
<text class="tk" transform="translate(232 545.3) scale(1 1.07)" text-anchor="middle">0</text>
<text class="tk" transform="translate(453.9 545.3) scale(1 1.07)" text-anchor="middle">50</text>
<text class="tk" transform="translate(675.8 545.3) scale(1 1.07)" text-anchor="middle">100</text>
<text class="tk" transform="translate(897.7 545.3) scale(1 1.07)" text-anchor="middle">150</text>
<text class="lb" x="497.3" y="579.2"><tspan class="it">v</tspan> / (km·h<tspan class="sup" dy="-10.5">−1</tspan><tspan dy="10.5">)</tspan></text>
</g>
<g id="plot2">
<path d="M265 935.5h0M261.7 935.5h0M265.7 933.5h0M266.5 929.5h0M264.9 932.6h0M265.7 996.9h0M267.7 936.1h0M268.8 905.6h0M267.5 933.8h0M266.8 920.5h0M269.1 997.3h0M267.3 1010.9h0M266 998.2h0M268 1008.9h0M266.2 996.5h0M268.3 915.1h0M270.4 912.5h0M270.1 936.5h0M268.5 931.5h0M270.4 1012.1h0M269.8 1005.3h0M270.6 1024h0M271.4 1011.9h0M269.5 997.8h0M273 935.2h0M272.3 926.3h0M271.8 931.5h0M272.4 915.6h0M273.9 903.4h0M273.1 1012.3h0M273.1 996.5h0M270.8 995.3h0M273.9 994.6h0M270.7 995.9h0M274 915.2h0M272.8 925.2h0M276.2 900h0M273.6 916.8h0M273.8 1012.6h0M274.4 993.6h0M275.6 1003h0M274.6 1004.1h0M273.4 1023.3h0M273.1 993.7h0M275.4 923.9h0M278.3 933.4h0M275.2 925.4h0M275.9 903.6h0M275.7 926.8h0M275.9 1021.4h0M275.7 999.9h0M275.7 1013.2h0M275.3 1025.3h0M275.2 997h0M278 1017.8h0M280.4 929.8h0M279.5 915.6h0M279.9 926.6h0M279.9 904.6h0M278.7 920.2h0M277.9 1006.6h0M277.6 997.5h0M280.7 998.3h0M280.6 1000h0M279.8 1033.5h0M277.1 998.6h0M282 932.7h0M281.5 905.9h0M280.8 906.3h0M282.1 931.2h0M280 912.3h0M279.8 1015.3h0M281.8 1005.9h0M281 1002.4h0M280.2 1002.8h0M280.3 1029.8h0M282.4 1013.8h0M281 1024.6h0M284.6 935.5h0M283.8 933h0M282.7 937.3h0M284 934.8h0M283.5 914.6h0M284.6 1002h0M282.9 1027.5h0M281.6 1019h0M283 1014.4h0M283.9 1004.7h0M283.9 1017.3h0M282 1007.3h0M286.5 909.1h0M286.7 920h0M286.4 935.2h0M285.3 936.9h0M287.3 1007.9h0M286 1037.7h0M285.4 1035.8h0M284.6 1033.6h0M285.7 1008.5h0M284.9 1007.3h0M286.4 928.7h0M288.7 920h0M289.2 908.1h0M287.9 926.9h0M286 1005.1h0M286.5 1013.1h0M286 1027h0M287.4 1003h0M287.1 1022.4h0M289.4 1015.9h0M289.5 921.2h0M290.5 921.7h0M289.5 930.9h0M289.2 933.8h0M290.4 927.3h0M291.2 1023.1h0M290.7 1011.6h0M291.7 1037.8h0M290.9 1004.3h0M288.6 1015.3h0M290.1 1035.5h0M291.2 929.8h0M292.1 928.3h0M292.8 932.2h0M294 901.1h0M292.5 1006h0M292.8 1012h0M293.5 1026.7h0M293.6 1012.2h0M293.9 1031.6h0M291.6 1043.1h0M294 913.8h0M295.4 928.5h0M295.2 929.9h0M294.1 1009.4h0M293.1 1024.8h0M294.9 1010.2h0M294.5 1018.5h0M293.4 1028.7h0M295.2 921.7h0M295.4 918.3h0M297.1 898h0M296.6 919.9h0M295.2 1012.6h0M297 1015.9h0M297.2 1029.2h0M297.5 1017h0M298.1 1031h0M299.6 922.5h0M297.1 902.6h0M300 912.2h0M298 1014.9h0M298.9 1013.8h0M300.3 1031.4h0M298.9 1028.2h0M299.8 1016.8h0M300.8 916.8h0M300.3 918.7h0M300 915h0M301.4 1027.3h0M300.6 1017.6h0M302.3 1016.3h0M302.6 1027.3h0M299.6 1025h0M302.7 909.6h0M302.7 914.7h0M303.8 920.1h0M302.4 1015.3h0M304.7 1024h0M301.6 1039.8h0M303.6 1013.8h0M307.3 909.4h0M306.5 911.5h0M305.4 921.2h0M305 1043.6h0M306.9 1039.7h0M304 1035.5h0M305.8 1031.1h0M309.2 925.1h0M306 907.5h0M306.8 924.3h0M306.5 1037.5h0M308 1020.9h0M309 1037.1h0M309.5 1023.3h0M310.6 927.1h0M311.4 921.2h0M309.3 1030.2h0M309 1032.8h0M310.1 1035.6h0M309.9 1017h0M312.5 924.3h0M312.6 927.9h0M312 932.6h0M310.7 1018.3h0M312.9 1011.4h0M312.4 1016.7h0M310.6 1037.2h0M311.6 1019.9h0M315.5 928.5h0M315.9 932.6h0M315.4 933.8h0M312.9 1037.7h0M316 1040.9h0M315.3 1030.1h0M313.2 1013.8h0M314.3 1015.2h0M318 938h0M316.8 938.7h0M318.1 930.4h0M318 1016.2h0M317.3 1019.8h0M315 1028.4h0M315.4 1017.9h0M318.3 1007.8h0M317.8 1003.7h0M317.6 943.5h0M318.3 917.7h0M320.3 934.7h0M318.9 1026.1h0M318.5 1014.2h0M317.9 1008h0M320.2 1025.1h0M319.3 1018.6h0M318.4 1006.8h0M322 915.4h0M321.7 910.1h0M320.7 940.6h0M320.4 1004.1h0M322.8 1037.2h0M320.8 1028.9h0M320.7 1014.5h0M320.6 1009h0M324.9 941.7h0M324.4 935.9h0M324.9 927.1h0M322.5 1028.5h0M323.9 1007.3h0M322.7 1009.6h0M323.7 1002.3h0M323.8 1016.4h0M326.9 937.2h0M326 945.7h0M324 922.1h0M325.4 1009.6h0M324.6 1011.4h0M326.4 1011.6h0M325.1 1004.1h0M324.3 1022.3h0M327.2 1006.5h0M329 940.2h0M328.6 932.5h0M327 922.3h0M328.9 1014.4h0M328 1014.9h0M327.5 1000.4h0M329.2 1005.4h0M326.4 1010.5h0M330.7 940.6h0M330.5 936.8h0M330.1 944.7h0M330.7 1028.7h0M331.5 1033.1h0M331.7 1023h0M330.2 1011.2h0M331.4 1025.1h0M333.8 941.1h0M330.7 944.7h0M331.9 933.1h0M331.2 946.8h0M331.8 1011h0M331 1005.8h0M333.7 1023.4h0M331.5 1003h0M333.9 1025.6h0M333.7 936.5h0M336.1 937.2h0M334.3 941.6h0M335.4 925.3h0M333.6 1002.8h0M335.2 1025h0M332.8 1023.6h0M335.5 1013.5h0M335.9 1027h0M333 1007.5h0M337.5 927.3h0M334.9 947.3h0M335.7 947.1h0M335.8 1012.9h0M338.2 1001.9h0M338.3 1012.2h0M338.2 1000.4h0M337.8 1017.5h0M337.2 919.1h0M337.9 912.5h0M339.2 944.2h0M340.5 1011.4h0M339 1019.7h0M337.9 997.9h0M337.5 1010.7h0M339.9 1014.3h0M340.9 932.2h0M340.5 927.9h0M341.9 923.9h0M341.3 997.6h0M341 996.1h0M341.9 996.7h0M339.8 1010.9h0M342.4 940.1h0M342.8 938.8h0M343.5 940.7h0M343.9 1007.6h0M342.3 1009.8h0M344.4 1008.5h0M344.4 944.1h0M346.3 951h0M347.1 999.5h0M343.9 1005.3h0M346.4 998.3h0M347.8 952.6h0M348.2 939.2h0M346.9 996.3h0M347 993.4h0M349.1 950.2h0M350.1 953.7h0M349.3 995.3h0M351.9 953.3h0M351.3 952.5h0M353.2 994.4h0M353.8 949.7h0M355.2 956h0M354.3 1000h0M355.2 953.1h0M357.2 947h0M360.2 955h0M359.9 994h0M360.6 958.3h0M359.3 949.9h0M359.2 993.7h0M362.4 955.7h0M361.9 983.9h0M364 956.2h0M367.4 947.5h0M367 983.4h0M370.1 950.9h0M371.5 953.1h0M368.9 991.7h0M371.8 956h0M371.1 959.7h0M373 983.6h0M374.6 959.8h0M373.5 960h0M375.4 955.3h0M377 987.6h0M380 953.7h0M380.1 952.3h0M377.6 986.8h0M379.7 954.1h0M381.8 961.6h0M379.7 985.6h0M383.4 953.4h0M384.4 988.8h0M385.9 953.4h0M384.1 956.9h0M384.5 993.4h0M388.7 959.6h0M386 955.9h0M386.8 983.7h0M389.3 959.9h0M390.9 953.6h0M390.6 988.5h0M393.7 958.3h0M390.5 960.6h0M392.4 997.4h0M394.1 952.6h0M395.3 952.3h0M397.2 958.4h0M397.9 983.5h0M399.3 953.7h0M397.2 960.9h0M399.5 993.7h0M402.7 960.9h0M399.3 988h0M404.3 948.6h0M403.2 983.9h0M404.7 955.4h0M405.7 985.5h0M407.4 951.9h0M407.1 988.6h0M410.8 957.4h0M409.1 959.7h0M410.3 989h0M412.2 955.3h0M411.1 988.4h0M414.4 955.7h0M415.6 988.3h0M417.7 956.3h0M416.5 946.1h0M415.4 989.4h0M418.9 955.8h0M418.8 953.6h0M419.8 985.4h0M420.5 948.3h0M419.8 953.4h0M420 995.3h0M424.6 946.4h0M424.6 993.7h0M426.8 953.5h0M426.6 986.3h0M426.3 948.4h0M428.2 958.5h0M428.3 995.8h0M425.9 995.8h0M429 954.4h0M431.3 954h0M428.1 990.5h0M432.5 954.9h0M431.8 957.7h0M430.9 983h0M430.8 983.9h0M435.7 954.4h0M432.6 945.7h0M432.6 988h0M435.4 992.3h0M437.3 954.3h0M436.5 984.5h0M438.8 944.2h0M439.1 958.3h0M439.1 986.1h0M438.2 983.5h0M442 954.1h0M440.5 957.8h0M441 997.3h0M442.4 987h0M442 955.7h0M443.8 956.5h0M444.2 990.4h0M443.1 982h0M443.2 986.7h0M441.9 982.2h0M441.8 1004.4h0M443.8 957.4h0M445.6 943.8h0M444.4 952.3h0M445.4 1000.7h0M444.4 1006.6h0M445 995.1h0M446.3 1000.7h0M446.9 1003h0M444.1 989.2h0M448.3 938.1h0M449 944.7h0M448.3 945.5h0M448 984.8h0M446.4 993h0M446.5 986.8h0M449 983.6h0M448.4 983.8h0M448 993.5h0M448.9 1001h0M450.8 943.3h0M449.3 952h0M451.5 940.2h0M450 1001h0M449.3 984.1h0M451.5 999.9h0M449.7 990.6h0M448.8 1005.9h0M449.7 989.1h0M451.1 984h0M453.7 947.8h0M451.8 954.3h0M452.6 998.3h0M452.3 1009.9h0M452 989.5h0M453 990.1h0M452.5 1007.7h0M452.8 1006.7h0M450.3 986.4h0M454.4 949.7h0M455.6 948.8h0M454.7 948.6h0M452.9 982.3h0M453.9 1010.9h0M454 995.9h0M455.3 995.7h0M454.4 1004.6h0M452.5 990.3h0M454.6 1002.3h0M455.4 940.8h0M458.1 945.8h0M457.2 947.7h0M457.3 990.5h0M455.4 1007.6h0M458.2 987h0M456.3 989.8h0M457.7 1012.8h0M457.7 992.8h0M455 1007.8h0M457 947.9h0M459 958.4h0M460.2 989.4h0M457.8 1006.7h0M459.6 998.2h0M457.3 997.9h0M456.9 998.5h0M460.2 1000.6h0M460.5 955h0M460.5 949.6h0M460.7 940.5h0M462.4 994.4h0M462.4 1008.5h0M462.1 1011.3h0M459.4 986.1h0M461.7 990.4h0M462.1 1007.8h0M462.3 998.1h0M463.7 950.8h0M464.3 958.9h0M463 956.8h0M462.2 1010.1h0M462.8 994.6h0M464.4 988.5h0M464 1003.8h0M463.8 996.1h0M463.4 987.2h0M467 956.9h0M463.7 957.6h0M466.5 957.8h0M466.2 988h0M465.6 991.2h0M464.5 983.8h0M465.3 991.7h0M465.1 1011.4h0M466.4 992.5h0M467.1 991.1h0M468.7 953.6h0M468.2 943.9h0M468.7 1008.6h0M469.2 985.3h0M466.4 1006.7h0M467.8 1011.1h0M467.8 1008.2h0M468.5 989h0M466.9 983.1h0M468.1 940.6h0M469.1 952.1h0M468.5 956.7h0M471.1 1004.8h0M471 1000.5h0M469.7 988.6h0M468.6 1007.1h0M470.3 982.1h0M470.7 1002.2h0M468.5 1004.3h0M473.2 955.2h0M471.2 957.4h0M472.9 942.9h0M471.7 1013.8h0M473.7 1007.4h0M473.6 991.8h0M471.7 995h0M472.7 983.3h0M473.1 1007.4h0M470.2 1004.3h0M475 943.7h0M473.7 941.7h0M474.7 956.7h0M474.7 998h0M473.8 996.7h0M473.7 999.4h0M475.7 984h0M473.6 1002.3h0M473.5 1011.4h0M472.9 989.2h0M476.1 955.4h0M477.5 958.3h0M478 1011.2h0M477.1 981.9h0M475.7 998.1h0M475.5 1004.1h0M474.7 997.3h0M476.5 986.4h0M477.5 1002h0M478.9 941.3h0M479.3 950.8h0M480.3 958.3h0M477.7 994.1h0M477.3 986.3h0M477 998.8h0M477.9 988h0M479.9 1000.9h0M478.4 981.9h0M477.3 988.1h0M479.8 951.9h0M481.3 947.7h0M482.5 995.5h0M479.1 992.9h0M480.6 1001.2h0M482.6 984.4h0M479.4 983.6h0M480.7 984.7h0M484.7 944.3h0M482.9 943.3h0M482.5 937.8h0M483.5 1005h0M481.6 985.2h0M481.7 981.8h0M483.6 992h0M484 950.2h0M485.9 958.7h0M484.6 946.7h0M485.2 998.9h0M486.9 994.8h0M483.9 988.9h0M487.7 955.4h0M486.3 940.7h0M487.6 986.2h0M486.4 982.3h0M488.7 945h0M490.3 957.5h0M489.3 983.5h0M491.1 987.8h0M492 952.3h0M490.9 988h0M495.3 957.3h0M493.6 986.5h0M495.2 954.8h0M496.5 982.2h0M498.5 956.4h0M498.8 982.4h0M501.9 956.7h0M501 955.9h0M502.5 957.8h0M503.5 981.6h0M504.4 950.9h0M503.6 955.8h0M506.4 983.2h0M507.7 957h0M508.4 957.1h0M507.8 983h0M509.9 953.6h0M508.3 958.8h0M508.4 982.1h0M512.7 955.7h0M510.6 984.1h0M513.8 958.6h0M514.7 981.8h0M518.1 959.3h0M515.6 958.8h0M515 980.7h0M519.7 955.3h0M519.9 959.6h0M519.2 986.3h0M522.4 962.9h0M519 981.6h0M523.9 970h0M524.6 968.5h0M522.6 971.1h0M524.3 981.2h0M525.3 962.6h0M526.8 980h0M528.1 979.6h0M530.7 981.8h0M535.3 979h0M539.1 979.2h0M540.2 978.6h0M544 982.1h0M545.7 979.6h0M547.9 965.5h0M550.7 980.1h0M552.5 969.7h0M553.4 977.7h0M551.5 974.4h0M553.6 971.1h0M555.8 966h0M557 969.9h0M562.2 971.2h0M564.4 969.1h0M570.2 969.2h0M570.9 972.1h0M572.3 969.6h0M572.7 971.5h0M574.7 967.7h0M578.5 968.6h0M580 973.9h0M580.9 968.6h0M581.8 973.2h0M583.8 971h0M586 971.6h0M587.1 965h0M588.1 972h0M589.3 970.6h0M589.9 971.1h0M591.4 971.5h0M592.9 971.7h0M594 971.4h0M595.7 970.6h0M599.8 970.6h0M599.9 972.2h0M602.1 968.5h0M604.6 970.7h0M604.6 973h0M605.1 971.1h0M603.8 971.2h0M607.1 970.2h0M606.5 972.3h0M613.2 971.5h0M615.7 971.9h0M612.6 972.5h0M617.1 968.3h0M615.8 974h0M617.6 971.1h0M617.9 973.5h0M620.9 967.9h0M621.7 971.4h0M623.5 966h0M621.7 972.7h0M623.5 971.3h0M627.7 971.7h0M630.3 968.4h0M630 971h0M631.5 971.1h0M633.4 971h0M637.1 969.8h0M640.8 971.8h0M643.1 971h0M646.6 971.7h0M646.8 970.2h0M649.5 971h0M651.7 969.4h0M655.6 971.9h0M654.5 971.5h0M659.9 971.6h0M666.4 968.5h0M247.9 798.7h0M708.9 781.7h0M284.8 825.1h0M270.1 836.9h0M355.8 821.2h0M359.3 846.7h0M268.5 865.9h0M284.8 864.7h0M287.7 869.2h0M293.6 869.2h0M299.1 875.1h0M319.7 861h0M326 866.7h0M317.7 880h0M317.7 883.9h0M351.9 878.6h0M250.9 871.2h0M248.9 881h0M248.5 884.9h0M256 887.8h0M259.3 896.7h0M342.6 897.6h0M289.7 886.9h0M290.7 892.7h0M272 892.7h0M277 892.7h0M300.5 898.6h0M308.3 898.6h0M309.3 902.5h0M393.2 916.7h0M407.4 925.5h0M375 927h0M346.6 921.6h0M331.9 907.5h0M338.3 910.4h0M239.7 928h0M262.3 927h0M238.2 936.5h0M248.8 932h0M246.2 938.2h0M262.6 926.8h0M259.4 897.6h0M380 938.2h0M404 938h0M345.9 921.5h0M407.9 925.4h0M415.9 933h0M419.4 934.2h0M427.4 935.2h0M437.1 924.1h0M405.3 938.2h0M451.2 905.9h0M454.7 908.8h0M460 916.2h0M473.2 917.6h0M471.5 924.6h0M459.6 927.6h0M482.1 932.1h0M485.6 937h0M520 935.9h0M496.2 946.2h0M517.4 943.5h0M520 949.7h0M542.1 947.1h0M548.2 947.1h0M538.5 954.1h0M544.7 955h0M574.7 921.8h0M660.6 841.1h0M687.1 882.1h0M726.8 923.5h0M703.7 928.9h0M686 936h0M704.8 941.9h0M683.9 949h0M697.9 949.4h0M736.1 946.2h0M754.9 954.8h0M592.6 955.5h0M599.1 957h0M573.9 991h0M582.9 985.7h0M639 981.8h0M648.7 980.7h0M661.7 988.2h0M666.6 992.1h0M673.5 980.7h0M674.6 985h0M717.3 987.8h0M733.9 987.8h0M735 990.4h0M746.9 986.5h0M753.3 980.7h0M757.7 979.6h0M734.6 1004.9h0M709.8 1018.9h0M709.1 1035.3h0M711.9 1041.1h0M516.8 943.8h0M519.4 950h0M508.8 948.2h0M503.5 987.9h0M517.6 990.6h0M525.6 987.9h0M534.4 988.8h0M541.5 987.9h0M546.8 986.2h0M550.3 994.1h0M541.5 999.4h0M512.4 1004.7h0M501.8 999.4h0M712.7 961.1h0M716.2 959.7h0M236.5 994.7h0M239.1 1002.6h0M247.9 997.4h0M254.1 997.4h0M241.8 987.6h0M237.4 1017.6h0M254.4 1040h0M266.8 1040.4h0M276.4 1040.4h0M276.4 1045.3h0M267.2 1028.6h0M271.1 1031.6h0M278.9 1030.6h0M290.7 1053.1h0M291.7 1060h0M287.4 1062.9h0M278.9 1066.9h0M287.7 1072.4h0M300.5 1080.6h0M307 1084.5h0M314.2 1067.8h0M316.6 1070.4h0M328.9 1069.4h0M336.4 1079.6h0M342.6 1087.8h0M349.9 1094.9h0M320.7 1092.9h0M295.2 1108.6h0M265.2 1119.4h0M320.1 1168.8h0M300.5 1050.2h0M305.8 1054.7h0M328.3 1051.6h0M339.1 1047.6h0M356 1042.4h0M373.6 1048.8h0M362.6 1063.3h0M385.8 1071.2h0M410.3 1065.5h0M413.8 1078.2h0M361.3 1028.6h0M363.8 1034.5h0M357 1019.8h0M344.6 1019.8h0M399.5 1016.9h0M404.4 1013.9h0M423.4 1020.8h0M372 1012h0M367.6 990.3h0M376.8 989.4h0M364.4 1000.9h0M351.7 1000.9h0M372.4 1011.5h0M362.6 1028.2h0M389.1 1001.8h0M387.4 991.2h0M401.5 1004.4h0M401.5 1015h0M424.9 1020.6h0M438.2 1019h0M440.6 1009.2h0M443.5 1027.8h0M449 1030.8h0M435.9 1036.7h0M462.7 1056.3h0M484.9 1096.5h0M489.8 1016.3h0M498 1014.1h0M513.7 1020.6h0M513.1 1004.3h0M502.9 1001h0M541.2 1000.6h0M455.9 1020.6h0M464.7 1018.6h0M410.8 1003.9h0M414.7 1007.5h0M402 1011.8h0M419.4 998.2h0M496.2 996.5h0M550 994.7h0M573.8 990.8h0" fill="none" stroke="#E6151C" stroke-width="8.0" stroke-linecap="round"/>
<path d="M237.1 958.4V982.2M241.4 948V981.3M245.3 946.3V985.2M250 944.5V987.8M254.8 946.6V989.7M259.2 943.4V993.1M263.8 938.1V995.8M267.6 935V995.4M272.6 938V993.2M276.1 936.2V991.1M280.6 937.6V993.9M285.1 938V1000.1M290.3 934.7V1002.4M294.5 930.6V1009.7M298.9 925.7V1011M302.7 922.8V1015.1M307.6 924.7V1015.8M311.8 932.3V1012.8M317.1 942.4V1003.2M321.3 944.3V1003.1M326.1 946.6V999.9M329.8 948.3V999.4M333.9 947.3V998.8M339.4 949.3V996.7M343 950.9V995M347.9 955.5V991.6M351.8 955.1V988.5M356.1 957.1V987.8M361.1 957.1V985.9M365.1 960.9V984.3M370.3 960.4V983.5M374.2 960.1V980.9M378.7 962.1V983M383.1 961.2V983.3M388 960.1V982.3M391.8 960V982.7M396.8 960.5V982.6M401 961V983M405.8 960.4V986.3M409.5 960.3V987.4M414.5 957.7V986.9M418.3 959.2V985M422.6 958.7V984.4M428.1 957.7V983.5M432.1 958V983.8M436.9 958.9V981.9M441 959.9V982.6M445.3 959.6V982.9M449.4 957.4V983.9M454.7 957.4V981.5M458.5 958.3V983.4M463.4 959.5V981.7M467.4 957.9V981.6M472 959.6V981.1M476.3 957.5V982.7M481 959.9V982.2M484.8 957.7V981.2M490 957.7V981M494.3 958.9V982.8M498.2 958V982.5M503.4 959.6V981.6M507.2 959V982.1M511.8 957.1V980.7M516.7 957.5V981.3M520.8 964V980.1M525.2 966V979.2M529 963.5V980.2M534.4 965.6V978.7M538.3 966V980.7M542.9 964.7V978.7M547.2 965.2V977.6M552.2 971.9V972.7M556.7 970.8V973.1M561 970.2V978.2M565.1 965.4V978.2M569.4 968.7V978.2M574.6 969.8V971.9M578.3 969.8V973.2M582.4 970.2V971.9M587.1 971.6V971.9M591.3 971.4V972.1M596.2 971.4V972.6M600.2 969.6V971.9M605.6 969.7V972.8M609.4 970.4V972.9M614.2 969.8V973.3M618.4 971.9V971.9M622.3 971.9V971.9M627.8 971.6V972.4M631.8 971.2V971.9M636.7 971.9V976M640.4 971.9V974.9M645.2 971V974.8M649.6 969.7V977.7M653.5 970.2V975.9M658.8 971.1V976.2M663.3 970.9V976.4M667.7 968.3V977.1M671.8 965.1V981.2M675.9 964.6V980.7M680.2 963V979.9M684.8 963.2V981M689 960.4V980.6M694.4 965.6V980.4M697.9 963.4V980.5M702.7 965.9V980.9M707.7 966V979M711.1 964.5V978.8M716.2 963.3V978.4M720.1 964.8V980.6M724.6 963V978.8M729.2 963.3V978.1M734.1 965.7V979.9M738 965.2V978.4M742.1 966.3V978.1M746.6 966.5V977.7M751.6 966.7V978.6M756.1 967.5V975.9M760.5 968.3V977.7" fill="none" stroke="#1E4DA0" stroke-width="8.0" stroke-linecap="round"/>
<path d="M234.4 956.6L237.6 953.2L238.6 956.1L238.9 947.1L242.1 944.4L243.1 946.7L243.3 947.3L246.5 943.2L247.5 946.7L247.8 945.9L251 942.8L252 945.5L252.2 947.2L255.4 944.1L256.4 946.7L256.6 941.3L259.8 938.4L260.8 940.9L261.1 938.6L264.3 934.9L265.3 938L265.5 935.6L268.7 931.8L269.7 935L269.9 936.5L273.1 933.7L274.1 936L274.4 937.7L277.6 934L278.6 937.2L278.8 938.5L282 934.8L283 938L283.3 937.9L286.5 934.1L287.5 937.3L287.7 934.7L290.9 931.3L291.9 934.2L292.1 931.5L295.3 928.3L296.3 931.1L296.6 927.4L299.8 923.5L300.8 926.8L301 921.8L304.2 918.4L305.2 921.2L305.4 925.9L308.6 922.1L309.6 925.3L309.9 931.4L313.1 928.6L314.1 930.9L314.3 943.7L317.5 940.1L318.5 943.1L318.8 945.9L322 942.1L323 945.3L323.2 945.1L326.4 942L327.4 944.6L327.6 949.4L330.8 945.2L331.8 948.7L332.1 949.4L335.3 945.9L336.3 948.9L336.5 950.8L339.7 947.2L340.7 950.3L340.9 952.1L344.1 949.2L345.1 951.7L345.4 954.4L348.6 951.2L349.6 953.9L349.8 957.9L353 953.7L354 957.3L354.3 957.6L357.5 954.5L358.5 957.1L358.7 958.9L361.9 956.2L362.9 958.5L363.1 960.3L366.3 956.3L367.3 959.7L367.6 959.3L370.8 956.5L371.8 958.9L372 962.6L375.2 958.6L376.2 962L376.5 961L379.7 958.1L380.7 960.6L380.9 961L384.1 957.2L385.1 960.5L385.3 961.2L388.5 958.1L389.5 960.8L389.8 960.6L393 958L394 960.2L394.2 961.8L397.4 957.9L398.4 961.2L398.6 961.9L401.8 957.9L402.8 961.3L403.1 960.7L406.3 956.5L407.3 960.1L407.5 960.2L410.7 957.4L411.7 959.8L412 960.4L415.2 956.9L416.2 959.8L416.4 958.8L419.6 955.6L420.6 958.3L420.8 960L424 956.3L425 959.5L425.3 959.4L428.5 955.3L429.5 958.7L429.7 957.9L432.9 954.3L433.9 957.4L434.1 958.4L437.3 954.4L438.3 957.8L438.6 957.9L441.8 955.1L442.8 957.4L443 960.4L446.2 956.1L447.2 959.7L447.5 957.3L450.7 954.1L451.7 956.9L451.9 960.3L455.1 956.1L456.1 959.6L456.3 958.5L459.5 955.3L460.5 958.1L460.8 959.3L464 955.5L465 958.7L465.2 959.7L468.4 956L469.4 959.2L469.7 957.5L472.9 954.5L473.9 957L474.1 958.3L477.3 955.4L478.3 957.9L478.5 957.1L481.7 954.1L482.7 956.7L483 959.7L486.2 955.6L487.2 959.1L487.4 958.7L490.6 956.1L491.6 958.3L491.8 957.9L495 954.7L496 957.4L496.3 957.9L499.5 954.9L500.5 957.5L500.7 958L503.9 954.6L504.9 957.5L505.2 959.1L508.4 956.4L509.4 958.7L509.6 958.5L512.8 955.5L513.8 958.1L514 960.1L517.2 956.1L518.2 959.5L518.5 962.8L521.7 959.6L522.7 962.4L522.9 966.4L526.1 962.4L527.1 965.8L527.3 964L530.5 960.8L531.5 963.5L531.8 966.4L535 962.4L536 965.8L536.2 965.2L539.4 962.3L540.4 964.8L540.7 964.9L543.9 961.1L544.9 964.3L545.1 964.8L548.3 962.1L549.3 964.4L549.5 969.6L552.7 966.9L553.7 969.2L554 971.1L557.2 968.1L558.2 970.6L558.4 971.1L561.6 968.4L562.6 970.7L562.9 967.3L566.1 963.8L567.1 966.8L567.3 966.2L570.5 963.2L571.5 965.7L571.7 971.5L574.9 968.2L575.9 971L576.2 970.7L579.4 968.6L580.4 970.4L580.6 970.6L583.8 967.7L584.8 970.2L585 970.8L588.2 967.6L589.2 970.3L589.5 970L592.7 967.6L593.7 969.6L593.9 971.2L597.1 969.4L598.1 971L598.4 970.8L601.6 968.6L602.6 970.5L602.8 971.6L606 968.5L607 971.1L607.2 971.1L610.4 969.1L611.4 970.8L611.7 971.4L614.9 968.4L615.9 970.9L616.1 971.6L619.3 968.7L620.3 971.2L620.5 970.4L623.7 967.4L624.7 969.9L625 970.9L628.2 969.2L629.2 970.7L629.4 970.1L632.6 967.2L633.6 969.6L633.9 971.3L637.1 968.4L638.1 970.8L638.3 971.3L641.5 968.3L642.5 970.9L642.7 971.9L645.9 968.6L646.9 971.4L647.2 971.6L650.4 969L651.4 971.2L651.6 970.5L654.8 967.4L655.8 970L656 971.7L659.2 967.6L660.2 971.1L660.5 971.5L663.7 968.3L664.7 971L664.9 968.1L668.1 964L669.1 967.5L669.4 965.3L672.6 961.5L673.6 964.8L673.8 964.7L677 961.4L678 964.2L678.2 965.1L681.4 961.3L682.4 964.5L682.7 965.4L685.9 961.4L686.9 964.8L687.1 961.6L690.3 958.8L691.3 961.2L691.6 964.2L694.8 960.2L695.8 963.6L696 964L699.2 960.9L700.2 963.6L700.4 965.4L703.6 961.3L704.6 964.8L704.9 964.2L708.1 961.1L709.1 963.7L709.3 965.6L712.5 962.5L713.5 965.1L713.7 966.2L716.9 961.9L717.9 965.5L718.2 964.7L721.4 960.8L722.4 964.1L722.6 965.1L725.8 961.3L726.8 964.5L727.1 965L730.3 960.8L731.3 964.4L731.5 966.5L734.7 962.7L735.7 965.9L735.9 965.8L739.1 961.7L740.1 965.2L740.4 964.6L743.6 962L744.6 964.2L744.8 966.5L748 963.8L749 966.1L749.2 969.3L752.4 965.3L753.4 968.7L753.7 966.8L756.9 963.6L757.9 966.3L758.1 967.7L761.3 965.1L762.3 967.3L762.3 977.3L761.3 979.9L758.1 976.8L757.9 976L756.9 979.1L753.7 975.4L753.4 977.2L752.4 979.7L749.2 976.8L749 978.8L748 981.6L744.8 978.4L744.6 979.7L743.6 982.6L740.4 979.2L740.1 980.9L739.1 983.7L735.9 980.4L735.7 980.4L734.7 982.8L731.5 980L731.3 979.8L730.3 982.9L727.1 979.3L726.8 979.2L725.8 982.6L722.6 978.6L722.4 978.3L721.4 981.5L718.2 977.7L717.9 979.6L716.9 982L713.7 979.2L713.5 979.5L712.5 981.8L709.3 979.1L709.1 979.2L708.1 982.5L704.9 978.6L704.6 981.8L703.6 984.6L700.4 981.3L700.2 981.5L699.2 984.3L696 981L695.8 981.1L694.8 984.4L691.6 980.5L691.3 980.4L690.3 983.8L687.1 979.8L686.9 981.9L685.9 984.6L682.7 981.5L682.4 981.7L681.4 984L678.2 981.3L678 980L677 982.9L673.8 979.5L673.6 979.2L672.6 981.8L669.4 978.8L669.1 977.6L668.1 981.1L664.9 977L664.7 976.7L663.7 980.3L660.5 976.1L660.2 975.6L659.2 978.4L656 975.2L655.8 977.4L654.8 980.3L651.6 976.9L651.4 976.1L650.4 979L647.2 975.6L646.9 975.2L645.9 978.7L642.7 974.6L642.5 977.4L641.5 980.5L638.3 976.9L638.1 975.3L637.1 978.4L633.9 974.7L633.6 973.2L632.6 975.8L629.4 972.8L629.2 972.4L628.2 973.9L625 972.1L624.7 973.3L623.7 975.9L620.5 972.9L620.3 973.2L619.3 975.7L616.1 972.8L615.9 973.1L614.9 975.6L611.7 972.6L611.4 972.6L610.4 974.2L607.2 972.3L607 973.3L606 975.9L602.8 972.8L602.6 972.3L601.6 974.3L598.4 972L598.1 972.7L597.1 974.3L593.9 972.4L593.7 971.5L592.7 973.6L589.5 971.2L589.2 972.5L588.2 975.2L585 972L584.8 972.3L583.8 974.7L580.6 971.8L580.4 972.3L579.4 974.1L576.2 971.9L575.9 973.2L574.9 975.9L571.7 972.7L571.5 976.1L570.5 979.6L567.3 975.4L567.1 977.9L566.1 981L562.9 977.3L562.6 979.4L561.6 981.8L558.4 979L558.2 972.7L557.2 975.3L554 972.3L553.7 973.3L552.7 975.5L549.5 972.9L549.3 978.5L548.3 981.8L545.1 978L544.9 978.5L543.9 982L540.7 977.9L540.4 980L539.4 982.5L536.2 979.6L536 979.3L535 981.6L531.8 978.9L531.5 979.9L530.5 982.6L527.3 979.4L527.1 980.3L526.1 983.1L522.9 979.8L522.7 978.9L521.7 981.8L518.5 978.4L518.2 979.5L517.2 982.6L514 978.9L513.8 980.9L512.8 983.5L509.6 980.4L509.4 983L508.4 985.2L505.2 982.6L504.9 983.2L503.9 985.8L500.7 982.8L500.5 981.7L499.5 984.3L496.3 981.2L496 983.6L495 986.1L491.8 983.1L491.6 982.8L490.6 986.1L487.4 982.3L487.2 982.9L486.2 985.4L483 982.4L482.7 982.8L481.7 985.9L478.5 982.3L478.3 981.3L477.3 984.9L474.1 980.7L473.9 982.6L472.9 985.6L469.7 982.1L469.4 984.1L468.4 986.5L465.2 983.7L465 984L464 986.7L460.8 983.5L460.5 982.2L459.5 984.9L456.3 981.7L456.1 981.7L455.1 984.8L451.9 981.1L451.7 983.3L450.7 985.6L447.5 982.9L447.2 984.4L446.2 986.8L443 983.9L442.8 983.2L441.8 986.8L438.6 982.6L438.3 983.4L437.3 985.8L434.1 982.9L433.9 982.5L432.9 985.2L429.7 982L429.5 983.8L428.5 986.5L425.3 983.3L425 984.8L424 987.4L420.8 984.4L420.6 986L419.6 988.6L416.4 985.6L416.2 985.7L415.2 989.2L412 985.1L411.7 986.3L410.7 988.7L407.5 985.9L407.3 984.4L406.3 987.3L403.1 983.9L402.8 983.9L401.8 986.8L398.6 983.4L398.4 983.1L397.4 986.4L394.2 982.5L394 982.1L393 985.7L389.8 981.5L389.5 984.2L388.5 987.1L385.3 983.7L385.1 982.5L384.1 985.6L380.9 981.9L380.7 981.8L379.7 984.6L376.5 981.3L376.2 982.2L375.2 985.6L372 981.6L371.8 981.8L370.8 984.9L367.6 981.3L367.3 983.7L366.3 986.5L363.1 983.2L362.9 986.1L361.9 988.9L358.7 985.6L358.5 985.9L357.5 989.2L354.3 985.3L354 988.9L353 991.9L349.8 988.4L349.6 992.2L348.6 995.1L345.4 991.7L345.1 994.7L344.1 998.1L340.9 994.1L340.7 997.1L339.7 999.4L336.5 996.7L336.3 999.1L335.3 1001.8L332.1 998.6L331.8 999.3L330.8 1002.4L327.6 998.7L327.4 1001.4L326.4 1003.9L323.2 1000.9L323 1003.6L322 1006.5L318.8 1003.1L318.5 1003.3L317.5 1006L314.3 1002.9L314.1 1010.6L313.1 1014.1L309.9 1010L309.6 1015.7L308.6 1018.6L305.4 1015.2L305.2 1013.9L304.2 1017.1L301 1013.3L300.8 1012.5L299.8 1014.9L296.6 1012.1L296.3 1007.8L295.3 1011.3L292.1 1007.2L291.9 1004.1L290.9 1007.3L287.7 1003.6L287.5 999.9L286.5 1002.2L283.3 999.5L283 994.9L282 997.4L278.8 994.4L278.6 991.1L277.6 994L274.4 990.5L274.1 993.6L273.1 996.1L269.9 993.2L269.7 994.9L268.7 997.5L265.5 994.4L265.3 994.2L264.3 997.2L261.1 993.7L260.8 991.6L259.8 994.5L256.6 991.1L256.4 990L255.4 992.8L252.2 989.5L252 987.8L251 990.8L247.8 987.2L247.5 984.5L246.5 987.5L243.3 984L243.1 983.2L242.1 986.4L238.9 982.6L238.6 982.7L237.6 985.7L234.4 982.2Z" fill="#1E4DA0" stroke="#1E4DA0" stroke-width="0.8" stroke-linejoin="round"/>
<path d="M645.6 953.5h0M589.1 960.6h0M582.1 981.8h0M587.4 976.5h0M609.4 967.6h0M612.1 972.9h0M620.9 967.6h0M632.4 966.8h0M674.7 962.4h0M291.7 909.4h0M302.5 909.4h0M307.4 910.4h0M298.5 916.3h0M303.4 924.1h0M241 940.9h0M244.4 946.2h0M255.4 941.2h0M264.2 930.3h0M277 1005.8h0" fill="none" stroke="#1E4DA0" stroke-width="8.0" stroke-linecap="round"/>
<path d="M234.4 964L237.6 960.8L238.6 963.5L238.9 962L242.1 959L243.1 961.6L243.3 961.4L246.5 958.3L247.5 960.9L247.8 960.4L251 957.8L252 960L252.2 958.3L255.4 955.9L256.4 958L256.6 956.8L259.8 954.2L260.8 956.4L261.1 955L264.3 952.5L265.3 954.6L265.5 954.9L268.7 951.9L269.7 954.4L269.9 954.2L273.1 950.7L274.1 953.7L274.4 954.7L277.6 951.4L278.6 954.3L278.8 953.5L282 951.1L283 953.2L283.3 954.8L286.5 951.5L287.5 954.3L287.7 953.5L290.9 950.9L291.9 953.1L292.1 954.4L295.3 951.3L296.3 954L296.6 956.4L299.8 953.4L300.8 956L301 955.8L304.2 953.1L305.2 955.4L305.4 957.5L308.6 954.8L309.6 957.1L309.9 959.5L313.1 955.9L314.1 959L314.3 960.3L317.5 956.7L318.5 959.8L318.8 960L322 957.2L323 959.5L323.2 961.3L326.4 957.9L327.4 960.8L327.6 961.5L330.8 958.7L331.8 961.1L332.1 961.2L335.3 958.9L336.3 960.9L336.5 964.4L339.7 961.5L340.7 963.9L340.9 965.5L344.1 962.2L345.1 965L345.4 965.1L348.6 962.6L349.6 964.8L349.8 966.2L353 962.8L354 965.7L354.3 966.7L357.5 963.4L358.5 966.2L358.7 967.4L361.9 964.7L362.9 967L363.1 967.8L366.3 964.1L367.3 967.3L367.6 967.7L370.8 965.2L371.8 967.3L372 966.4L375.2 964L376.2 966.1L376.5 967.7L379.7 964.5L380.7 967.2L380.9 967.6L384.1 964.5L385.1 967.2L385.3 967.9L388.5 964.2L389.5 967.4L389.8 965.5L393 963.1L394 965.1L394.2 966.1L397.4 963.5L398.4 965.7L398.6 965.8L401.8 963.5L402.8 965.5L403.1 966.2L406.3 962.9L407.3 965.7L407.5 966.6L410.7 963.2L411.7 966.1L412 966.9L415.2 963.9L416.2 966.5L416.4 966.5L419.6 963.9L420.6 966.1L420.8 967.5L424 964.1L425 967L425.3 965.9L428.5 962.7L429.5 965.4L429.7 966.9L432.9 963.9L433.9 966.4L434.1 965.6L437.3 962.6L438.3 965.1L438.6 965.5L441.8 962.8L442.8 965.1L443 965.8L446.2 963.3L447.2 965.4L447.5 965.3L450.7 962.6L451.7 964.9L451.9 967.1L455.1 963.6L456.1 966.5L456.3 966.5L459.5 962.9L460.5 965.9L460.8 965L464 962.6L465 964.6L465.2 965.9L468.4 963.6L469.4 965.6L469.7 966.4L472.9 963.3L473.9 966L474.1 966.2L477.3 962.6L478.3 965.7L478.5 965.3L481.7 962.7L482.7 964.9L483 966.2L486.2 963.3L487.2 965.8L487.4 966.1L490.6 962.4L491.6 965.6L491.8 965.6L495 962.1L496 965L496.3 966L499.5 963L500.5 965.5L500.7 964.3L503.9 962L504.9 964L505.2 966.2L508.4 962.6L509.4 965.7L509.6 967.2L512.8 963.5L513.8 966.6L514 965.5L517.2 962.2L518.2 965L518.5 966L521.7 963.7L522.7 965.7L522.9 965.4L526.1 963.1L527.1 965.1L527.3 965.6L530.5 962.9L531.5 965.2L531.8 966.2L535 963.9L536 965.9L536.2 965.6L539.4 962.9L540.4 965.2L540.7 966.1L543.9 963.5L544.9 965.7L545.1 966.4L548.3 964L549.3 966.1L549.5 965.7L552.7 962.9L553.7 965.2L554 966.5L557.2 963.9L558.2 966.1L558.4 966.1L561.6 963.5L562.6 965.7L562.9 966.8L566.1 964.3L567.1 966.4L567.3 966.3L570.5 962.8L571.5 965.8L571.7 967.1L574.9 963.5L575.9 966.6L576.2 966L579.4 963.5L580.4 965.7L580.6 966.5L583.8 963.1L584.8 966L585 969.8L588.2 967.3L589.2 969.5L589.2 974.7L588.2 976.6L585 974.3L584.8 976.7L583.8 978.8L580.6 976.3L580.4 975.4L579.4 978.2L576.2 974.9L575.9 975.1L574.9 978.2L571.7 974.6L571.5 975.5L570.5 978.6L567.3 974.9L567.1 976.7L566.1 979L562.9 976.3L562.6 974.8L561.6 977.8L558.4 974.3L558.2 976L557.2 978.6L554 975.5L553.7 976.3L552.7 979L549.5 975.9L549.3 976.8L548.3 979.1L545.1 976.4L544.9 975.8L543.9 978L540.7 975.4L540.4 976.5L539.4 979L536.2 976.1L536 976.3L535 979.2L531.8 975.8L531.5 976.1L530.5 978.4L527.3 975.7L527.1 975.1L526.1 978.3L522.9 974.5L522.7 975.9L521.7 978.3L518.5 975.5L518.2 975.3L517.2 978.4L514 974.8L513.8 975.6L512.8 978.7L509.6 975L509.4 976.3L508.4 979.4L505.2 975.7L504.9 976.9L503.9 978.9L500.7 976.6L500.5 976.3L499.5 978.9L496.3 975.9L496 977.2L495 979.5L491.8 976.8L491.6 975.7L490.6 978.6L487.4 975.1L487.2 977.2L486.2 979.7L483 976.7L482.7 977.1L481.7 979.1L478.5 976.7L478.3 977.5L477.3 979.6L474.1 977.2L473.9 977.4L472.9 979.8L469.7 977L469.4 977.7L468.4 979.7L465.2 977.3L465 978L464 979.9L460.8 977.6L460.5 977.7L459.5 979.8L456.3 977.4L456.1 975.9L455.1 978.5L451.9 975.4L451.7 976.7L450.7 978.9L447.5 976.4L447.2 976.7L446.2 979.4L443 976.3L442.8 977L441.8 979.6L438.6 976.6L438.3 975.4L437.3 978.4L434.1 974.9L433.9 976.7L432.9 979.6L429.7 976.1L429.5 976.8L428.5 979.3L425.3 976.3L425 976.6L424 979.2L420.8 976.1L420.6 976L419.6 978.4L416.4 975.6L416.2 976.7L415.2 979.3L412 976.3L411.7 976.9L410.7 979.6L407.5 976.4L407.3 976.8L406.3 979.5L403.1 976.3L402.8 976.6L401.8 978.6L398.6 976.3L398.4 977.7L397.4 979.7L394.2 977.3L394 976L393 978.5L389.8 975.5L389.5 975.4L388.5 977.5L385.3 975L385.1 975.9L384.1 977.9L380.9 975.5L380.7 975.6L379.7 978.1L376.5 975.1L376.2 976.3L375.2 978.3L372 976L371.8 976.1L370.8 978.3L367.6 975.7L367.3 976.3L366.3 978.5L363.1 975.9L362.9 977.1L361.9 979L358.7 976.8L358.5 977.9L357.5 980L354.3 977.6L354 977.8L353 980.3L349.8 977.4L349.6 977.5L348.6 979.5L345.4 977.1L345.1 978.3L344.1 981.1L340.9 977.8L340.7 978.2L339.7 980.2L336.5 977.8L336.3 979.4L335.3 982.5L332.1 978.8L331.8 980.7L330.8 983.1L327.6 980.3L327.4 980.6L326.4 983.5L323.2 980L323 982.6L322 985L318.8 982.2L318.5 983L317.5 985.4L314.3 982.5L314.1 983.6L313.1 986.7L309.9 983.1L309.6 984.6L308.6 987.1L305.4 984.2L305.2 984L304.2 986.6L301 983.6L300.8 983.9L299.8 986.6L296.6 983.4L296.3 983.4L295.3 985.6L292.1 983L291.9 983.5L290.9 985.7L287.7 983.1L287.5 982.5L286.5 985.5L283.3 982L283 982.3L282 985.2L278.8 981.8L278.6 982.3L277.6 984.7L274.4 981.9L274.1 981.3L273.1 984.4L269.9 980.8L269.7 982.5L268.7 984.7L265.5 982.1L265.3 981.7L264.3 984.6L261.1 981.1L260.8 980.2L259.8 983.2L256.6 979.7L256.4 979.5L255.4 982.2L252.2 979L252 978.8L251 981.1L247.8 978.4L247.5 978L246.5 981L243.3 977.5L243.1 976.4L242.1 979.5L238.9 975.9L238.6 976.2L237.6 978.2L234.4 975.9ZM607.2 969.1L610.4 966.7L611.4 968.8L611.7 968.2L614.9 965.2L615.9 967.8L616.1 969.5L619.3 966.2L620.3 969L620.5 969L623.7 966.4L624.7 968.6L625 968.2L628.2 965.8L629.2 967.8L629.4 968.6L632.6 965.9L633.6 968.2L633.9 969.3L637.1 966L638.1 968.8L638.3 968.5L641.5 965.6L642.5 968.1L642.7 967.7L645.9 964.9L646.9 967.3L647.2 968.6L650.4 965.7L651.4 968.2L651.6 968.7L654.8 966L655.8 968.3L656 967.4L659.2 964.9L660.2 967L660.5 968.5L663.7 965.6L664.7 968.1L664.9 968L668.1 964.8L669.1 967.5L669.4 969.7L672.6 966.1L673.6 969.1L673.8 966.8L677 964.5L678 966.5L678.2 968.6L681.4 966.2L682.4 968.3L682.7 968.6L685.9 965.5L686.9 968.2L687.1 967.9L690.3 964.8L691.3 967.4L691.6 968.6L694.8 965.5L695.8 968.1L696 967.7L699.2 965.3L700.2 967.4L700.4 967.4L703.6 964.9L704.6 967L704.9 967L708.1 964.7L709.1 966.7L709.3 967.6L712.5 964.5L713.5 967.1L713.7 968.4L716.9 965.9L717.9 968L718.2 969.6L721.4 966.2L722.4 969.1L722.6 968.4L725.8 966.1L726.8 968.1L727.1 968.5L730.3 965.1L731.3 968L731.5 967.8L734.7 964.9L735.7 967.4L735.9 968.7L739.1 965.9L740.1 968.3L740.4 969.5L743.6 966.1L744.6 969L744.8 969L748 965.8L749 968.5L749.2 969.5L752.4 965.9L753.4 969L753.7 969.1L756.9 965.7L757.9 968.6L758.1 968.3L761.3 966L762.3 968L762.3 973.6L761.3 976.3L758.1 973.1L757.9 973.6L756.9 975.8L753.7 973.2L753.4 973.4L752.4 976.3L749.2 972.9L749 973.8L748 976.5L744.8 973.3L744.6 975L743.6 977L740.4 974.6L740.1 973.6L739.1 976.1L735.9 973.1L735.7 973.8L734.7 976.6L731.5 973.3L731.3 975.1L730.3 977.4L727.1 974.7L726.8 974.7L725.8 977.1L722.6 974.3L722.4 974L721.4 976.7L718.2 973.5L717.9 973.8L716.9 976.8L713.7 973.2L713.5 974L712.5 976L709.3 973.7L709.1 974.9L708.1 976.8L704.9 974.5L704.6 973.7L703.6 976.5L700.4 973.2L700.2 973.9L699.2 976.1L696 973.5L695.8 974.1L694.8 977L691.6 973.6L691.3 972.9L690.3 975.9L687.1 972.4L686.9 973.7L685.9 976.1L682.7 973.3L682.4 973.7L681.4 976L678.2 973.3L678 975L677 977.4L673.8 974.6L673.6 973.2L672.6 976.2L669.4 972.7L669.1 974.7L668.1 977.7L664.9 974.1L664.7 974.2L663.7 976.7L660.5 973.8L660.2 974.7L659.2 977.3L656 974.2L655.8 974.8L654.8 976.9L651.6 974.4L651.4 974.5L650.4 977.6L647.2 973.9L646.9 974.3L645.9 977.3L642.7 973.8L642.5 975.6L641.5 977.8L638.3 975.2L638.1 974.5L637.1 976.6L633.9 974.1L633.6 974.5L632.6 976.9L629.4 974.1L629.2 975.2L628.2 977.5L625 974.8L624.7 973.9L623.7 976.7L620.5 973.4L620.3 974.3L619.3 976.9L616.1 973.8L615.9 975.2L614.9 977.7L611.7 974.8L611.4 974.7L610.4 977.5L607.2 974.2Z" fill="#231815" stroke="#231815" stroke-width="0.8" stroke-linejoin="round"/>
<path d="M590 972.2h0M594 970.6h0M598 971.6h0M601.5 969.6h0M609 971h0M613 974h0M761.5 971.6h0" fill="none" stroke="#231815" stroke-width="7.4" stroke-linecap="round"/>
<path d="M237.6 964.8V974.8" fill="none" stroke="#231815" stroke-width="7.4" stroke-linecap="round"/>
<path d="M602.4 966.7h0M614.7 974.9h0M623.9 967.1h0M762.6 972.5h0M714.5 961.3h0M729.6 961.3h0M736.1 962.4h0M685.4 977.5h0M718.8 979.6h0M730.7 980.7h0M739.3 979.6h0M550.9 964.2h0M552.6 980h0" fill="none" stroke="#E6151C" stroke-width="8.0" stroke-linecap="round"/>
<path d="M232.3 736.5 V1206.1 H899.2" fill="none" stroke="#231815" stroke-width="2.4" stroke-linejoin="miter"/>
<path d="M232.3 737.7h11.5M232.3 761.1h6.8M232.3 784.5h6.8M232.3 808h6.8M232.3 831.4h6.8M232.3 854.8h11.5M232.3 878.2h6.8M232.3 901.6h6.8M232.3 925.1h6.8M232.3 948.5h6.8M232.3 971.9h11.5M232.3 995.3h6.8M232.3 1018.7h6.8M232.3 1042.2h6.8M232.3 1065.6h6.8M232.3 1089h11.5M232.3 1112.4h6.8M232.3 1135.8h6.8M232.3 1159.3h6.8M232.3 1182.7h6.8M276.7 1206.1v-7M321.1 1206.1v-7M365.4 1206.1v-7M409.8 1206.1v-7M454.2 1206.1v-11.6M498.6 1206.1v-7M543 1206.1v-7M587.3 1206.1v-7M631.7 1206.1v-7M676.1 1206.1v-11.6M720.5 1206.1v-7M764.9 1206.1v-7M809.2 1206.1v-7M853.6 1206.1v-7M898 1206.1v-11.6" fill="none" stroke="#231815" stroke-width="2.3"/>
<text class="tk" transform="translate(224.9 748) scale(1 1.07)" text-anchor="end">10</text>
<text class="tk" transform="translate(224.9 865.1) scale(1 1.07)" text-anchor="end">5</text>
<text class="tk" transform="translate(224.9 982.2) scale(1 1.07)" text-anchor="end">0</text>
<text class="tk" transform="translate(224.9 1099.3) scale(1 1.07)" text-anchor="end">−5</text>
<text class="tk" transform="translate(224.9 1216.4) scale(1 1.07)" text-anchor="end">−10</text>
<text class="tk" transform="translate(232 1240) scale(1 1.07)" text-anchor="middle">0</text>
<text class="tk" transform="translate(453.9 1240) scale(1 1.07)" text-anchor="middle">50</text>
<text class="tk" transform="translate(675.8 1240) scale(1 1.07)" text-anchor="middle">100</text>
<text class="tk" transform="translate(897.7 1240) scale(1 1.07)" text-anchor="middle">150</text>
<text class="lb" x="497.3" y="1274.6"><tspan class="it">v</tspan> / (km·h<tspan class="sup" dy="-10.5">−1</tspan><tspan dy="10.5">)</tspan></text>
</g>
<text class="lb" style="font-size:29.8px" transform="translate(164.8 344.9) rotate(-90)"><tspan class="it">a</tspan> / (km·h<tspan class="sup" dy="-10.5">−2</tspan><tspan dy="10.5">)</tspan></text>
<text class="lb" style="font-size:29.5px" transform="translate(165 1056.6) rotate(-90)">Jerk / (km·h<tspan class="sup" dy="-10.5">−3</tspan><tspan dy="10.5">)</tspan></text>
<text class="lg"><tspan x="437" y="94.9" class="it">a</tspan><tspan x="454.1" y="97.9" class="op">&gt;</tspan><tspan x="476.9" y="94.9">mean</tspan><tspan x="538.8" y="94.9">(</tspan><tspan x="548.4" y="94.9" class="it">a</tspan><tspan x="564.9" y="94.9">)</tspan><tspan x="574.6" y="97.9" class="op">+</tspan><tspan x="597.4" y="94.9">std</tspan><tspan x="632.1" y="94.9">(</tspan><tspan x="641.7" y="94.9" class="it">a</tspan><tspan x="658.2" y="94.9">)</tspan></text>
<text class="lg"><tspan x="437.4" y="131">mean</tspan><tspan x="499.6" y="131">(</tspan><tspan x="509.2" y="131" class="it">a</tspan><tspan x="525.7" y="131">)</tspan><tspan x="537.6" y="134" class="op">&lt;</tspan><tspan x="559.1" y="131" class="it">a</tspan><tspan x="601.1" y="131">mean</tspan><tspan x="663.8" y="131">(</tspan><tspan x="673.4" y="131" class="it">a</tspan><tspan x="689.9" y="131">)</tspan><tspan x="701" y="134" class="op">+</tspan><tspan x="722.9" y="131">std</tspan><tspan x="757.6" y="131">(</tspan><tspan x="767.2" y="131" class="it">a</tspan><tspan x="783.7" y="131">)</tspan></text>
<text class="le" transform="translate(569.7 128.6) scale(1.307 0.743)">⩽</text>
<text class="lg"><tspan x="437.4" y="167.5">min</tspan><tspan x="483.1" y="167.5">(</tspan><tspan x="492.7" y="167.5" class="it">a</tspan><tspan x="509.2" y="167.5">)</tspan><tspan x="519.9" y="170.5" class="op">&lt;</tspan><tspan x="540.7" y="167.5" class="it">a</tspan><tspan x="586.7" y="167.5">mean</tspan><tspan x="648" y="167.5">(</tspan><tspan x="657.6" y="167.5" class="it">a</tspan><tspan x="674.1" y="167.5">)</tspan></text>
<text class="le" transform="translate(552.3 165.1) scale(1.307 0.743)">⩽</text>
<circle cx="416.1" cy="88.4" r="3.6" fill="#E6151C"/>
<circle cx="416.1" cy="125.1" r="3.6" fill="#1E4DA0"/>
<circle cx="416.1" cy="161.6" r="3.6" fill="#231815"/>
<text class="lg"><tspan x="462.5" y="789.2" class="it">j</tspan><tspan x="474.1" y="792.2" class="op">&gt;</tspan><tspan x="496.9" y="789.2">mean</tspan><tspan x="557.9" y="789.2">(</tspan><tspan x="574.1" y="789.2" class="it">j</tspan><tspan x="588" y="789.2">)</tspan><tspan x="603.7" y="792.2" class="op">+</tspan><tspan x="623.5" y="789.2">std</tspan><tspan x="658.3" y="789.2">(</tspan><tspan x="674.5" y="789.2" class="it">j</tspan><tspan x="688.4" y="789.2">)</tspan></text>
<text class="lg"><tspan x="462.7" y="826.1">mean</tspan><tspan x="523.7" y="826.1">(</tspan><tspan x="539.9" y="826.1" class="it">j</tspan><tspan x="553.8" y="826.1">)</tspan><tspan x="565.8" y="829.1" class="op">&lt;</tspan><tspan x="591.3" y="826.1" class="it">j</tspan><tspan x="631.4" y="826.1">mean</tspan><tspan x="692.5" y="826.1">(</tspan><tspan x="708.7" y="826.1" class="it">j</tspan><tspan x="722.6" y="826.1">)</tspan><tspan x="737.4" y="829.1" class="op">+</tspan><tspan x="758.1" y="826.1">std</tspan><tspan x="792.5" y="826.1">(</tspan><tspan x="808.7" y="826.1" class="it">j</tspan><tspan x="822.6" y="826.1">)</tspan></text>
<text class="le" transform="translate(599.2 823.7) scale(1.307 0.743)">⩽</text>
<text class="lg"><tspan x="462.7" y="862.7">min</tspan><tspan x="508.5" y="862.7">(</tspan><tspan x="524.7" y="862.7" class="it">j</tspan><tspan x="538.6" y="862.7">)</tspan><tspan x="550.2" y="865.7" class="op">&lt;</tspan><tspan x="574.8" y="862.7" class="it">j</tspan><tspan x="615" y="862.7">mean</tspan><tspan x="676.8" y="862.7">(</tspan><tspan x="693" y="862.7" class="it">j</tspan><tspan x="706.9" y="862.7">)</tspan></text>
<text class="le" transform="translate(582.8 860.3) scale(1.307 0.743)">⩽</text>
<circle cx="437.6" cy="782.9" r="3.6" fill="#E6151C"/>
<circle cx="437.6" cy="819.6" r="3.6" fill="#1E4DA0"/>
<circle cx="437.6" cy="855.9" r="3.6" fill="#231815"/>
<text class="cap"><tspan x="391.1" y="662">(a)</tspan><tspan class="cjk" x="444" y="664.2">加速度</tspan><tspan x="552.4" y="662">vs</tspan><tspan class="cjk" x="590.5" y="664.2">速度</tspan></text>
<text class="cap"><tspan x="412.5" y="1357.6">(b)</tspan><tspan x="468.4" y="1357.6">Jerk</tspan><tspan x="532.4" y="1357.6">vs</tspan><tspan class="cjk" x="571.3" y="1360.4">速度</tspan></text>
</svg>
</body>
</html>
